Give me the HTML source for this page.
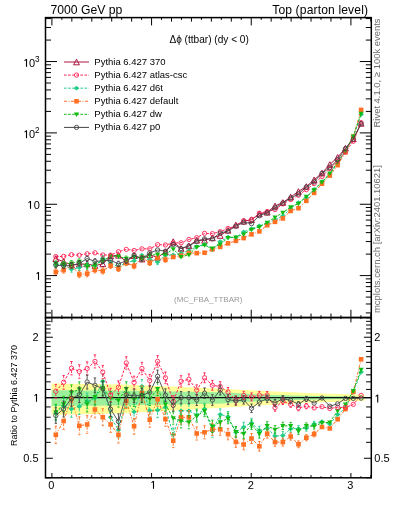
<!DOCTYPE html><html><head><meta charset="utf-8"><style>html,body{margin:0;padding:0;background:#fff}svg{display:block;will-change:transform}text{font-family:"Liberation Sans",sans-serif}</style></head><body>
<svg width="393" height="512" viewBox="0 0 393 512">
<defs><clipPath id="cm"><rect x="45.5" y="17.6" width="325.8" height="299.95"/></clipPath><clipPath id="cr"><rect x="45.5" y="317.55" width="325.8" height="160.25"/></clipPath></defs>
<g clip-path="url(#cr)"><path d="M51.60,383.45 L56.82,383.52 L62.03,383.60 L67.25,383.67 L72.47,383.74 L77.68,383.82 L82.90,383.89 L88.12,383.97 L93.33,384.04 L98.55,384.11 L103.77,384.19 L108.98,384.26 L114.20,384.34 L119.42,384.41 L124.63,384.61 L129.85,384.83 L135.07,385.04 L140.28,385.26 L145.50,385.48 L150.72,385.69 L155.93,385.91 L161.15,386.13 L166.37,386.35 L171.58,386.57 L176.80,386.79 L182.02,387.01 L187.23,387.23 L192.45,387.46 L197.67,387.68 L202.88,387.90 L208.10,388.13 L213.32,388.35 L218.53,388.58 L223.75,388.84 L228.97,389.11 L234.18,389.39 L239.40,389.66 L244.62,389.94 L249.83,390.22 L255.05,390.50 L260.27,390.78 L265.48,391.05 L270.70,391.29 L275.92,391.52 L281.13,391.76 L286.35,392.00 L291.57,392.23 L296.78,392.47 L302.00,392.71 L307.22,392.95 L312.43,393.15 L317.65,393.31 L322.87,393.47 L328.08,393.63 L333.30,393.80 L338.52,393.96 L343.73,394.12 L348.95,394.28 L354.17,394.43 L359.38,394.59 L364.60,394.75 L364.60,400.86 L359.38,401.03 L354.17,401.20 L348.95,401.37 L343.73,401.54 L338.52,401.72 L333.30,401.89 L328.08,402.07 L322.87,402.25 L317.65,402.43 L312.43,402.60 L307.22,402.83 L302.00,403.10 L296.78,403.37 L291.57,403.64 L286.35,403.91 L281.13,404.18 L275.92,404.46 L270.70,404.73 L265.48,405.00 L260.27,405.33 L255.05,405.66 L249.83,405.99 L244.62,406.33 L239.40,406.66 L234.18,407.00 L228.97,407.34 L223.75,407.68 L218.53,408.00 L213.32,408.28 L208.10,408.57 L202.88,408.85 L197.67,409.14 L192.45,409.42 L187.23,409.71 L182.02,410.00 L176.80,410.28 L171.58,410.57 L166.37,410.86 L161.15,411.16 L155.93,411.45 L150.72,411.74 L145.50,412.04 L140.28,412.33 L135.07,412.63 L129.85,412.93 L124.63,413.23 L119.42,413.50 L114.20,413.61 L108.98,413.71 L103.77,413.81 L98.55,413.92 L93.33,414.02 L88.12,414.13 L82.90,414.23 L77.68,414.34 L72.47,414.44 L67.25,414.55 L62.03,414.65 L56.82,414.76 L51.60,414.86 Z" fill="#ffff99"/><path d="M51.60,390.23 L56.82,390.26 L62.03,390.29 L67.25,390.32 L72.47,390.35 L77.68,390.38 L82.90,390.41 L88.12,390.44 L93.33,390.47 L98.55,390.50 L103.77,390.53 L108.98,390.56 L114.20,390.59 L119.42,390.63 L124.63,390.70 L129.85,390.79 L135.07,390.87 L140.28,390.96 L145.50,391.04 L150.72,391.12 L155.93,391.21 L161.15,391.29 L166.37,391.38 L171.58,391.46 L176.80,391.55 L182.02,391.63 L187.23,391.72 L192.45,391.80 L197.67,391.89 L202.88,391.97 L208.10,392.06 L213.32,392.14 L218.53,392.23 L223.75,392.46 L228.97,392.74 L234.18,393.03 L239.40,393.32 L244.62,393.61 L249.83,393.90 L255.05,394.19 L260.27,394.48 L265.48,394.76 L270.70,394.89 L275.92,395.01 L281.13,395.14 L286.35,395.27 L291.57,395.40 L296.78,395.52 L302.00,395.65 L307.22,395.78 L312.43,395.89 L317.65,395.96 L322.87,396.04 L328.08,396.12 L333.30,396.19 L338.52,396.27 L343.73,396.35 L348.95,396.43 L354.17,396.53 L359.38,396.62 L364.60,396.71 L364.60,398.80 L359.38,398.90 L354.17,398.99 L348.95,399.09 L343.73,399.18 L338.52,399.26 L333.30,399.34 L328.08,399.42 L322.87,399.50 L317.65,399.57 L312.43,399.65 L307.22,399.76 L302.00,399.90 L296.78,400.03 L291.57,400.17 L286.35,400.30 L281.13,400.44 L275.92,400.58 L270.70,400.71 L265.48,400.85 L260.27,401.15 L255.05,401.46 L249.83,401.78 L244.62,402.10 L239.40,402.42 L234.18,402.74 L228.97,403.06 L223.75,403.38 L218.53,403.64 L213.32,403.74 L208.10,403.84 L202.88,403.94 L197.67,404.03 L192.45,404.13 L187.23,404.23 L182.02,404.33 L176.80,404.43 L171.58,404.53 L166.37,404.62 L161.15,404.72 L155.93,404.82 L150.72,404.92 L145.50,405.02 L140.28,405.12 L135.07,405.22 L129.85,405.32 L124.63,405.42 L119.42,405.51 L114.20,405.54 L108.98,405.58 L103.77,405.62 L98.55,405.65 L93.33,405.69 L88.12,405.73 L82.90,405.76 L77.68,405.80 L72.47,405.84 L67.25,405.87 L62.03,405.91 L56.82,405.95 L51.60,405.98 Z" fill="#9cf09c"/></g>
<line x1="45.5" y1="397.55" x2="371.3" y2="397.55" stroke="#111" stroke-width="1.25"/>
<g clip-path="url(#cr)"><polyline points="55.81,413.00 63.64,406.00 71.47,409.00 79.30,406.50 87.13,401.00 94.95,398.00 102.78,381.30 110.61,417.30 118.44,429.90 126.27,400.00 134.09,411.80 141.92,386.30 149.75,410.50 157.58,410.20 165.41,407.20 173.23,434.70 181.06,410.80 188.89,410.80 196.72,415.00 204.55,409.00 212.38,431.00 220.20,414.40 228.03,416.70 235.86,432.30 243.69,427.10 251.52,422.90 259.34,430.70 267.17,428.30 275.00,436.10 282.83,435.50 290.66,428.80 298.48,428.80 306.31,428.20 314.14,424.00 321.97,421.60 329.80,424.10 337.62,414.50 345.45,408.00 353.28,392.00 361.11,372.00" fill="none" stroke="#22cc88" stroke-width="1.0" stroke-dasharray="2.6,1.5"/><path d="M55.81,405.30V410.80M55.81,415.20V420.70" stroke="#22cc88" stroke-width="0.9" fill="none" stroke-dasharray="2.6,1.5"/><path d="M54.61,405.30H57.01M54.61,420.70H57.01" stroke="#22cc88" stroke-width="0.9" fill="none"/><path d="M63.64,398.24V403.80M63.64,408.20V413.76" stroke="#22cc88" stroke-width="0.9" fill="none" stroke-dasharray="2.6,1.5"/><path d="M62.44,398.24H64.84M62.44,413.76H64.84" stroke="#22cc88" stroke-width="0.9" fill="none"/><path d="M71.47,400.73V406.80M71.47,411.20V417.27" stroke="#22cc88" stroke-width="0.9" fill="none" stroke-dasharray="2.6,1.5"/><path d="M70.27,400.73H72.67M70.27,417.27H72.67" stroke="#22cc88" stroke-width="0.9" fill="none"/><path d="M79.30,398.42V404.30M79.30,408.70V414.58" stroke="#22cc88" stroke-width="0.9" fill="none" stroke-dasharray="2.6,1.5"/><path d="M78.10,398.42H80.50M78.10,414.58H80.50" stroke="#22cc88" stroke-width="0.9" fill="none"/><path d="M87.13,393.18V398.80M87.13,403.20V408.82" stroke="#22cc88" stroke-width="0.9" fill="none" stroke-dasharray="2.6,1.5"/><path d="M85.93,393.18H88.33M85.93,408.82H88.33" stroke="#22cc88" stroke-width="0.9" fill="none"/><path d="M94.95,390.12V395.80M94.95,400.20V405.88" stroke="#22cc88" stroke-width="0.9" fill="none" stroke-dasharray="2.6,1.5"/><path d="M93.75,390.12H96.15M93.75,405.88H96.15" stroke="#22cc88" stroke-width="0.9" fill="none"/><path d="M102.78,374.25V379.10M102.78,383.50V388.35" stroke="#22cc88" stroke-width="0.9" fill="none" stroke-dasharray="2.6,1.5"/><path d="M101.58,374.25H103.98M101.58,388.35H103.98" stroke="#22cc88" stroke-width="0.9" fill="none"/><path d="M110.61,409.73V415.10M110.61,419.50V424.87" stroke="#22cc88" stroke-width="0.9" fill="none" stroke-dasharray="2.6,1.5"/><path d="M109.41,409.73H111.81M109.41,424.87H111.81" stroke="#22cc88" stroke-width="0.9" fill="none"/><path d="M118.44,421.90V427.70M118.44,432.10V437.90" stroke="#22cc88" stroke-width="0.9" fill="none" stroke-dasharray="2.6,1.5"/><path d="M117.24,421.90H119.64M117.24,437.90H119.64" stroke="#22cc88" stroke-width="0.9" fill="none"/><path d="M126.27,392.49V397.80M126.27,402.20V407.51" stroke="#22cc88" stroke-width="0.9" fill="none" stroke-dasharray="2.6,1.5"/><path d="M125.07,392.49H127.47M125.07,407.51H127.47" stroke="#22cc88" stroke-width="0.9" fill="none"/><path d="M134.09,404.47V409.60M134.09,414.00V419.13" stroke="#22cc88" stroke-width="0.9" fill="none" stroke-dasharray="2.6,1.5"/><path d="M132.89,404.47H135.29M132.89,419.13H135.29" stroke="#22cc88" stroke-width="0.9" fill="none"/><path d="M141.92,379.55V384.10M141.92,388.50V393.05" stroke="#22cc88" stroke-width="0.9" fill="none" stroke-dasharray="2.6,1.5"/><path d="M140.72,379.55H143.12M140.72,393.05H143.12" stroke="#22cc88" stroke-width="0.9" fill="none"/><path d="M149.75,403.32V408.30M149.75,412.70V417.68" stroke="#22cc88" stroke-width="0.9" fill="none" stroke-dasharray="2.6,1.5"/><path d="M148.55,403.32H150.95M148.55,417.68H150.95" stroke="#22cc88" stroke-width="0.9" fill="none"/><path d="M157.58,402.75V408.00M157.58,412.40V417.65" stroke="#22cc88" stroke-width="0.9" fill="none" stroke-dasharray="2.6,1.5"/><path d="M156.38,402.75H158.78M156.38,417.65H158.78" stroke="#22cc88" stroke-width="0.9" fill="none"/><path d="M165.41,400.43V405.00M165.41,409.40V413.97" stroke="#22cc88" stroke-width="0.9" fill="none" stroke-dasharray="2.6,1.5"/><path d="M164.21,400.43H166.61M164.21,413.97H166.61" stroke="#22cc88" stroke-width="0.9" fill="none"/><path d="M173.23,427.98V432.50M173.23,436.90V441.42" stroke="#22cc88" stroke-width="0.9" fill="none" stroke-dasharray="2.6,1.5"/><path d="M172.03,427.98H174.43M172.03,441.42H174.43" stroke="#22cc88" stroke-width="0.9" fill="none"/><path d="M181.06,404.23V408.60M181.06,413.00V417.37" stroke="#22cc88" stroke-width="0.9" fill="none" stroke-dasharray="2.6,1.5"/><path d="M179.86,404.23H182.26M179.86,417.37H182.26" stroke="#22cc88" stroke-width="0.9" fill="none"/><path d="M188.89,404.48V408.60M188.89,413.00V417.12" stroke="#22cc88" stroke-width="0.9" fill="none" stroke-dasharray="2.6,1.5"/><path d="M187.69,404.48H190.09M187.69,417.12H190.09" stroke="#22cc88" stroke-width="0.9" fill="none"/><path d="M196.72,409.04V412.80M196.72,417.20V420.96" stroke="#22cc88" stroke-width="0.9" fill="none" stroke-dasharray="2.6,1.5"/><path d="M195.52,409.04H197.92M195.52,420.96H197.92" stroke="#22cc88" stroke-width="0.9" fill="none"/><path d="M204.55,403.23V406.80M204.55,411.20V414.77" stroke="#22cc88" stroke-width="0.9" fill="none" stroke-dasharray="2.6,1.5"/><path d="M203.35,403.23H205.75M203.35,414.77H205.75" stroke="#22cc88" stroke-width="0.9" fill="none"/><path d="M212.38,424.75V428.80M212.38,433.20V437.25" stroke="#22cc88" stroke-width="0.9" fill="none" stroke-dasharray="2.6,1.5"/><path d="M211.18,424.75H213.58M211.18,437.25H213.58" stroke="#22cc88" stroke-width="0.9" fill="none"/><path d="M220.20,408.86V412.20M220.20,416.60V419.94" stroke="#22cc88" stroke-width="0.9" fill="none" stroke-dasharray="2.6,1.5"/><path d="M219.00,408.86H221.40M219.00,419.94H221.40" stroke="#22cc88" stroke-width="0.9" fill="none"/><path d="M228.03,411.50V414.50M228.03,418.90V421.90" stroke="#22cc88" stroke-width="0.9" fill="none" stroke-dasharray="2.6,1.5"/><path d="M226.83,411.50H229.23M226.83,421.90H229.23" stroke="#22cc88" stroke-width="0.9" fill="none"/><path d="M235.86,427.08V430.10M235.86,434.50V437.52" stroke="#22cc88" stroke-width="0.9" fill="none" stroke-dasharray="2.6,1.5"/><path d="M234.66,427.08H237.06M234.66,437.52H237.06" stroke="#22cc88" stroke-width="0.9" fill="none"/><path d="M243.69,422.29V424.90M243.69,429.30V431.91" stroke="#22cc88" stroke-width="0.9" fill="none" stroke-dasharray="2.6,1.5"/><path d="M242.49,422.29H244.89M242.49,431.91H244.89" stroke="#22cc88" stroke-width="0.9" fill="none"/><path d="M251.52,418.30V420.70M251.52,425.10V427.50" stroke="#22cc88" stroke-width="0.9" fill="none" stroke-dasharray="2.6,1.5"/><path d="M250.32,418.30H252.72M250.32,427.50H252.72" stroke="#22cc88" stroke-width="0.9" fill="none"/><path d="M259.34,426.29V428.50M259.34,432.90V435.11" stroke="#22cc88" stroke-width="0.9" fill="none" stroke-dasharray="2.6,1.5"/><path d="M258.14,426.29H260.54M258.14,435.11H260.54" stroke="#22cc88" stroke-width="0.9" fill="none"/><path d="M267.17,424.05V426.10M267.17,430.50V432.55" stroke="#22cc88" stroke-width="0.9" fill="none" stroke-dasharray="2.6,1.5"/><path d="M265.97,424.05H268.37M265.97,432.55H268.37" stroke="#22cc88" stroke-width="0.9" fill="none"/><path d="M275.00,432.07V433.90M275.00,438.30V440.13" stroke="#22cc88" stroke-width="0.9" fill="none" stroke-dasharray="2.6,1.5"/><path d="M273.80,432.07H276.20M273.80,440.13H276.20" stroke="#22cc88" stroke-width="0.9" fill="none"/><path d="M282.83,431.67V433.30M282.83,437.70V439.33" stroke="#22cc88" stroke-width="0.9" fill="none" stroke-dasharray="2.6,1.5"/><path d="M281.63,431.67H284.03M281.63,439.33H284.03" stroke="#22cc88" stroke-width="0.9" fill="none"/><path d="M290.66,425.39V426.60M290.66,431.00V432.21" stroke="#22cc88" stroke-width="0.9" fill="none" stroke-dasharray="2.6,1.5"/><path d="M289.46,425.39H291.86M289.46,432.21H291.86" stroke="#22cc88" stroke-width="0.9" fill="none"/><path d="M298.48,425.65V426.60M298.48,431.00V431.95" stroke="#22cc88" stroke-width="0.9" fill="none" stroke-dasharray="2.6,1.5"/><path d="M297.28,425.65H299.68M297.28,431.95H299.68" stroke="#22cc88" stroke-width="0.9" fill="none"/><path d="M306.31,425.28V426.00M306.31,430.40V431.12" stroke="#22cc88" stroke-width="0.9" fill="none" stroke-dasharray="2.6,1.5"/><path d="M305.11,425.28H307.51M305.11,431.12H307.51" stroke="#22cc88" stroke-width="0.9" fill="none"/><path d="M314.14,421.41V421.80M314.14,426.20V426.59" stroke="#22cc88" stroke-width="0.9" fill="none" stroke-dasharray="2.6,1.5"/><path d="M312.94,421.41H315.34M312.94,426.59H315.34" stroke="#22cc88" stroke-width="0.9" fill="none"/><path d="M55.81,410.60 L58.61,413.00 L55.81,415.40 L53.01,413.00 Z" fill="#22cc88"/><path d="M63.64,403.60 L66.44,406.00 L63.64,408.40 L60.84,406.00 Z" fill="#22cc88"/><path d="M71.47,406.60 L74.27,409.00 L71.47,411.40 L68.67,409.00 Z" fill="#22cc88"/><path d="M79.30,404.10 L82.10,406.50 L79.30,408.90 L76.50,406.50 Z" fill="#22cc88"/><path d="M87.13,398.60 L89.93,401.00 L87.13,403.40 L84.33,401.00 Z" fill="#22cc88"/><path d="M94.95,395.60 L97.75,398.00 L94.95,400.40 L92.15,398.00 Z" fill="#22cc88"/><path d="M102.78,378.90 L105.58,381.30 L102.78,383.70 L99.98,381.30 Z" fill="#22cc88"/><path d="M110.61,414.90 L113.41,417.30 L110.61,419.70 L107.81,417.30 Z" fill="#22cc88"/><path d="M118.44,427.50 L121.24,429.90 L118.44,432.30 L115.64,429.90 Z" fill="#22cc88"/><path d="M126.27,397.60 L129.07,400.00 L126.27,402.40 L123.47,400.00 Z" fill="#22cc88"/><path d="M134.09,409.40 L136.89,411.80 L134.09,414.20 L131.29,411.80 Z" fill="#22cc88"/><path d="M141.92,383.90 L144.72,386.30 L141.92,388.70 L139.12,386.30 Z" fill="#22cc88"/><path d="M149.75,408.10 L152.55,410.50 L149.75,412.90 L146.95,410.50 Z" fill="#22cc88"/><path d="M157.58,407.80 L160.38,410.20 L157.58,412.60 L154.78,410.20 Z" fill="#22cc88"/><path d="M165.41,404.80 L168.21,407.20 L165.41,409.60 L162.61,407.20 Z" fill="#22cc88"/><path d="M173.23,432.30 L176.03,434.70 L173.23,437.10 L170.43,434.70 Z" fill="#22cc88"/><path d="M181.06,408.40 L183.86,410.80 L181.06,413.20 L178.26,410.80 Z" fill="#22cc88"/><path d="M188.89,408.40 L191.69,410.80 L188.89,413.20 L186.09,410.80 Z" fill="#22cc88"/><path d="M196.72,412.60 L199.52,415.00 L196.72,417.40 L193.92,415.00 Z" fill="#22cc88"/><path d="M204.55,406.60 L207.35,409.00 L204.55,411.40 L201.75,409.00 Z" fill="#22cc88"/><path d="M212.38,428.60 L215.18,431.00 L212.38,433.40 L209.58,431.00 Z" fill="#22cc88"/><path d="M220.20,412.00 L223.00,414.40 L220.20,416.80 L217.40,414.40 Z" fill="#22cc88"/><path d="M228.03,414.30 L230.83,416.70 L228.03,419.10 L225.23,416.70 Z" fill="#22cc88"/><path d="M235.86,429.90 L238.66,432.30 L235.86,434.70 L233.06,432.30 Z" fill="#22cc88"/><path d="M243.69,424.70 L246.49,427.10 L243.69,429.50 L240.89,427.10 Z" fill="#22cc88"/><path d="M251.52,420.50 L254.32,422.90 L251.52,425.30 L248.72,422.90 Z" fill="#22cc88"/><path d="M259.34,428.30 L262.14,430.70 L259.34,433.10 L256.54,430.70 Z" fill="#22cc88"/><path d="M267.17,425.90 L269.97,428.30 L267.17,430.70 L264.37,428.30 Z" fill="#22cc88"/><path d="M275.00,433.70 L277.80,436.10 L275.00,438.50 L272.20,436.10 Z" fill="#22cc88"/><path d="M282.83,433.10 L285.63,435.50 L282.83,437.90 L280.03,435.50 Z" fill="#22cc88"/><path d="M290.66,426.40 L293.46,428.80 L290.66,431.20 L287.86,428.80 Z" fill="#22cc88"/><path d="M298.48,426.40 L301.28,428.80 L298.48,431.20 L295.68,428.80 Z" fill="#22cc88"/><path d="M306.31,425.80 L309.11,428.20 L306.31,430.60 L303.51,428.20 Z" fill="#22cc88"/><path d="M314.14,421.60 L316.94,424.00 L314.14,426.40 L311.34,424.00 Z" fill="#22cc88"/><path d="M321.97,419.20 L324.77,421.60 L321.97,424.00 L319.17,421.60 Z" fill="#22cc88"/><path d="M329.80,421.70 L332.60,424.10 L329.80,426.50 L327.00,424.10 Z" fill="#22cc88"/><path d="M337.62,412.10 L340.42,414.50 L337.62,416.90 L334.82,414.50 Z" fill="#22cc88"/><path d="M345.45,405.60 L348.25,408.00 L345.45,410.40 L342.65,408.00 Z" fill="#22cc88"/><path d="M353.28,389.60 L356.08,392.00 L353.28,394.40 L350.48,392.00 Z" fill="#22cc88"/><path d="M361.11,369.60 L363.91,372.00 L361.11,374.40 L358.31,372.00 Z" fill="#22cc88"/></g>
<g clip-path="url(#cr)"><polyline points="55.81,434.80 63.64,421.00 71.47,398.40 79.30,425.80 87.13,424.50 94.95,409.50 102.78,417.20 110.61,424.50 118.44,434.80 126.27,401.00 134.09,426.30 141.92,393.00 149.75,419.70 157.58,399.20 165.41,419.10 173.23,440.70 181.06,417.30 188.89,417.30 196.72,433.50 204.55,432.30 212.38,429.30 220.20,429.30 228.03,434.10 235.86,441.90 243.69,444.50 251.52,438.50 259.34,446.30 267.17,433.70 275.00,442.10 282.83,442.10 290.66,436.50 298.48,444.30 306.31,437.70 314.14,434.10 321.97,427.00 329.80,428.40 337.62,419.30 345.45,409.10 353.28,391.80 361.11,359.30" fill="none" stroke="#ff7022" stroke-width="1.0" stroke-dasharray="3,1.5,1,1.5"/><path d="M55.81,426.18V432.60M55.81,437.00V443.42" stroke="#ff7022" stroke-width="0.9" fill="none" stroke-dasharray="3,1.5,1,1.5"/><path d="M54.61,426.18H57.01M54.61,443.42H57.01" stroke="#ff7022" stroke-width="0.9" fill="none"/><path d="M63.64,412.62V418.80M63.64,423.20V429.38" stroke="#ff7022" stroke-width="0.9" fill="none" stroke-dasharray="3,1.5,1,1.5"/><path d="M62.44,412.62H64.84M62.44,429.38H64.84" stroke="#ff7022" stroke-width="0.9" fill="none"/><path d="M71.47,390.58V396.20M71.47,400.60V406.22" stroke="#ff7022" stroke-width="0.9" fill="none" stroke-dasharray="3,1.5,1,1.5"/><path d="M70.27,390.58H72.67M70.27,406.22H72.67" stroke="#ff7022" stroke-width="0.9" fill="none"/><path d="M79.30,416.87V423.60M79.30,428.00V434.73" stroke="#ff7022" stroke-width="0.9" fill="none" stroke-dasharray="3,1.5,1,1.5"/><path d="M78.10,416.87H80.50M78.10,434.73H80.50" stroke="#ff7022" stroke-width="0.9" fill="none"/><path d="M87.13,415.67V422.30M87.13,426.70V433.33" stroke="#ff7022" stroke-width="0.9" fill="none" stroke-dasharray="3,1.5,1,1.5"/><path d="M85.93,415.67H88.33M85.93,433.33H88.33" stroke="#ff7022" stroke-width="0.9" fill="none"/><path d="M94.95,401.14V407.30M94.95,411.70V417.86" stroke="#ff7022" stroke-width="0.9" fill="none" stroke-dasharray="3,1.5,1,1.5"/><path d="M93.75,401.14H96.15M93.75,417.86H96.15" stroke="#ff7022" stroke-width="0.9" fill="none"/><path d="M102.78,408.71V415.00M102.78,419.40V425.69" stroke="#ff7022" stroke-width="0.9" fill="none" stroke-dasharray="3,1.5,1,1.5"/><path d="M101.58,408.71H103.98M101.58,425.69H103.98" stroke="#ff7022" stroke-width="0.9" fill="none"/><path d="M110.61,416.64V422.30M110.61,426.70V432.36" stroke="#ff7022" stroke-width="0.9" fill="none" stroke-dasharray="3,1.5,1,1.5"/><path d="M109.41,416.64H111.81M109.41,432.36H111.81" stroke="#ff7022" stroke-width="0.9" fill="none"/><path d="M118.44,426.60V432.60M118.44,437.00V443.00" stroke="#ff7022" stroke-width="0.9" fill="none" stroke-dasharray="3,1.5,1,1.5"/><path d="M117.24,426.60H119.64M117.24,443.00H119.64" stroke="#ff7022" stroke-width="0.9" fill="none"/><path d="M126.27,393.45V398.80M126.27,403.20V408.55" stroke="#ff7022" stroke-width="0.9" fill="none" stroke-dasharray="3,1.5,1,1.5"/><path d="M125.07,393.45H127.47M125.07,408.55H127.47" stroke="#ff7022" stroke-width="0.9" fill="none"/><path d="M134.09,418.40V424.10M134.09,428.50V434.20" stroke="#ff7022" stroke-width="0.9" fill="none" stroke-dasharray="3,1.5,1,1.5"/><path d="M132.89,418.40H135.29M132.89,434.20H135.29" stroke="#ff7022" stroke-width="0.9" fill="none"/><path d="M141.92,386.02V390.80M141.92,395.20V399.98" stroke="#ff7022" stroke-width="0.9" fill="none" stroke-dasharray="3,1.5,1,1.5"/><path d="M140.72,386.02H143.12M140.72,399.98H143.12" stroke="#ff7022" stroke-width="0.9" fill="none"/><path d="M149.75,412.17V417.50M149.75,421.90V427.23" stroke="#ff7022" stroke-width="0.9" fill="none" stroke-dasharray="3,1.5,1,1.5"/><path d="M148.55,412.17H150.95M148.55,427.23H150.95" stroke="#ff7022" stroke-width="0.9" fill="none"/><path d="M157.58,392.16V397.00M157.58,401.40V406.24" stroke="#ff7022" stroke-width="0.9" fill="none" stroke-dasharray="3,1.5,1,1.5"/><path d="M156.38,392.16H158.78M156.38,406.24H158.78" stroke="#ff7022" stroke-width="0.9" fill="none"/><path d="M165.41,411.90V416.90M165.41,421.30V426.30" stroke="#ff7022" stroke-width="0.9" fill="none" stroke-dasharray="3,1.5,1,1.5"/><path d="M164.21,411.90H166.61M164.21,426.30H166.61" stroke="#ff7022" stroke-width="0.9" fill="none"/><path d="M173.23,433.77V438.50M173.23,442.90V447.63" stroke="#ff7022" stroke-width="0.9" fill="none" stroke-dasharray="3,1.5,1,1.5"/><path d="M172.03,433.77H174.43M172.03,447.63H174.43" stroke="#ff7022" stroke-width="0.9" fill="none"/><path d="M181.06,410.51V415.10M181.06,419.50V424.09" stroke="#ff7022" stroke-width="0.9" fill="none" stroke-dasharray="3,1.5,1,1.5"/><path d="M179.86,410.51H182.26M179.86,424.09H182.26" stroke="#ff7022" stroke-width="0.9" fill="none"/><path d="M188.89,410.76V415.10M188.89,419.50V423.84" stroke="#ff7022" stroke-width="0.9" fill="none" stroke-dasharray="3,1.5,1,1.5"/><path d="M187.69,410.76H190.09M187.69,423.84H190.09" stroke="#ff7022" stroke-width="0.9" fill="none"/><path d="M196.72,426.95V431.30M196.72,435.70V440.05" stroke="#ff7022" stroke-width="0.9" fill="none" stroke-dasharray="3,1.5,1,1.5"/><path d="M195.52,426.95H197.92M195.52,440.05H197.92" stroke="#ff7022" stroke-width="0.9" fill="none"/><path d="M204.55,425.79V430.10M204.55,434.50V438.81" stroke="#ff7022" stroke-width="0.9" fill="none" stroke-dasharray="3,1.5,1,1.5"/><path d="M203.35,425.79H205.75M203.35,438.81H205.75" stroke="#ff7022" stroke-width="0.9" fill="none"/><path d="M212.38,423.11V427.10M212.38,431.50V435.49" stroke="#ff7022" stroke-width="0.9" fill="none" stroke-dasharray="3,1.5,1,1.5"/><path d="M211.18,423.11H213.58M211.18,435.49H213.58" stroke="#ff7022" stroke-width="0.9" fill="none"/><path d="M220.20,423.32V427.10M220.20,431.50V435.28" stroke="#ff7022" stroke-width="0.9" fill="none" stroke-dasharray="3,1.5,1,1.5"/><path d="M219.00,423.32H221.40M219.00,435.28H221.40" stroke="#ff7022" stroke-width="0.9" fill="none"/><path d="M228.03,428.41V431.90M228.03,436.30V439.79" stroke="#ff7022" stroke-width="0.9" fill="none" stroke-dasharray="3,1.5,1,1.5"/><path d="M226.83,428.41H229.23M226.83,439.79H229.23" stroke="#ff7022" stroke-width="0.9" fill="none"/><path d="M235.86,436.42V439.70M235.86,444.10V447.38" stroke="#ff7022" stroke-width="0.9" fill="none" stroke-dasharray="3,1.5,1,1.5"/><path d="M234.66,436.42H237.06M234.66,447.38H237.06" stroke="#ff7022" stroke-width="0.9" fill="none"/><path d="M243.69,439.23V442.30M243.69,446.70V449.77" stroke="#ff7022" stroke-width="0.9" fill="none" stroke-dasharray="3,1.5,1,1.5"/><path d="M242.49,439.23H244.89M242.49,449.77H244.89" stroke="#ff7022" stroke-width="0.9" fill="none"/><path d="M251.52,433.51V436.30M251.52,440.70V443.49" stroke="#ff7022" stroke-width="0.9" fill="none" stroke-dasharray="3,1.5,1,1.5"/><path d="M250.32,433.51H252.72M250.32,443.49H252.72" stroke="#ff7022" stroke-width="0.9" fill="none"/><path d="M259.34,441.52V444.10M259.34,448.50V451.08" stroke="#ff7022" stroke-width="0.9" fill="none" stroke-dasharray="3,1.5,1,1.5"/><path d="M258.14,441.52H260.54M258.14,451.08H260.54" stroke="#ff7022" stroke-width="0.9" fill="none"/><path d="M267.17,429.33V431.50M267.17,435.90V438.07" stroke="#ff7022" stroke-width="0.9" fill="none" stroke-dasharray="3,1.5,1,1.5"/><path d="M265.97,429.33H268.37M265.97,438.07H268.37" stroke="#ff7022" stroke-width="0.9" fill="none"/><path d="M275.00,437.94V439.90M275.00,444.30V446.26" stroke="#ff7022" stroke-width="0.9" fill="none" stroke-dasharray="3,1.5,1,1.5"/><path d="M273.80,437.94H276.20M273.80,446.26H276.20" stroke="#ff7022" stroke-width="0.9" fill="none"/><path d="M282.83,438.14V439.90M282.83,444.30V446.06" stroke="#ff7022" stroke-width="0.9" fill="none" stroke-dasharray="3,1.5,1,1.5"/><path d="M281.63,438.14H284.03M281.63,446.06H284.03" stroke="#ff7022" stroke-width="0.9" fill="none"/><path d="M290.66,432.95V434.30M290.66,438.70V440.05" stroke="#ff7022" stroke-width="0.9" fill="none" stroke-dasharray="3,1.5,1,1.5"/><path d="M289.46,432.95H291.86M289.46,440.05H291.86" stroke="#ff7022" stroke-width="0.9" fill="none"/><path d="M298.48,440.89V442.10M298.48,446.50V447.71" stroke="#ff7022" stroke-width="0.9" fill="none" stroke-dasharray="3,1.5,1,1.5"/><path d="M297.28,440.89H299.68M297.28,447.71H299.68" stroke="#ff7022" stroke-width="0.9" fill="none"/><path d="M306.31,434.63V435.50M306.31,439.90V440.77" stroke="#ff7022" stroke-width="0.9" fill="none" stroke-dasharray="3,1.5,1,1.5"/><path d="M305.11,434.63H307.51M305.11,440.77H307.51" stroke="#ff7022" stroke-width="0.9" fill="none"/><path d="M314.14,431.37V431.90M314.14,436.30V436.83" stroke="#ff7022" stroke-width="0.9" fill="none" stroke-dasharray="3,1.5,1,1.5"/><path d="M312.94,431.37H315.34M312.94,436.83H315.34" stroke="#ff7022" stroke-width="0.9" fill="none"/><rect x="53.51" y="432.50" width="4.60" height="4.60" fill="#ff7022"/><rect x="61.34" y="418.70" width="4.60" height="4.60" fill="#ff7022"/><rect x="69.17" y="396.10" width="4.60" height="4.60" fill="#ff7022"/><rect x="77.00" y="423.50" width="4.60" height="4.60" fill="#ff7022"/><rect x="84.83" y="422.20" width="4.60" height="4.60" fill="#ff7022"/><rect x="92.65" y="407.20" width="4.60" height="4.60" fill="#ff7022"/><rect x="100.48" y="414.90" width="4.60" height="4.60" fill="#ff7022"/><rect x="108.31" y="422.20" width="4.60" height="4.60" fill="#ff7022"/><rect x="116.14" y="432.50" width="4.60" height="4.60" fill="#ff7022"/><rect x="123.97" y="398.70" width="4.60" height="4.60" fill="#ff7022"/><rect x="131.79" y="424.00" width="4.60" height="4.60" fill="#ff7022"/><rect x="139.62" y="390.70" width="4.60" height="4.60" fill="#ff7022"/><rect x="147.45" y="417.40" width="4.60" height="4.60" fill="#ff7022"/><rect x="155.28" y="396.90" width="4.60" height="4.60" fill="#ff7022"/><rect x="163.11" y="416.80" width="4.60" height="4.60" fill="#ff7022"/><rect x="170.93" y="438.40" width="4.60" height="4.60" fill="#ff7022"/><rect x="178.76" y="415.00" width="4.60" height="4.60" fill="#ff7022"/><rect x="186.59" y="415.00" width="4.60" height="4.60" fill="#ff7022"/><rect x="194.42" y="431.20" width="4.60" height="4.60" fill="#ff7022"/><rect x="202.25" y="430.00" width="4.60" height="4.60" fill="#ff7022"/><rect x="210.08" y="427.00" width="4.60" height="4.60" fill="#ff7022"/><rect x="217.90" y="427.00" width="4.60" height="4.60" fill="#ff7022"/><rect x="225.73" y="431.80" width="4.60" height="4.60" fill="#ff7022"/><rect x="233.56" y="439.60" width="4.60" height="4.60" fill="#ff7022"/><rect x="241.39" y="442.20" width="4.60" height="4.60" fill="#ff7022"/><rect x="249.22" y="436.20" width="4.60" height="4.60" fill="#ff7022"/><rect x="257.04" y="444.00" width="4.60" height="4.60" fill="#ff7022"/><rect x="264.87" y="431.40" width="4.60" height="4.60" fill="#ff7022"/><rect x="272.70" y="439.80" width="4.60" height="4.60" fill="#ff7022"/><rect x="280.53" y="439.80" width="4.60" height="4.60" fill="#ff7022"/><rect x="288.36" y="434.20" width="4.60" height="4.60" fill="#ff7022"/><rect x="296.18" y="442.00" width="4.60" height="4.60" fill="#ff7022"/><rect x="304.01" y="435.40" width="4.60" height="4.60" fill="#ff7022"/><rect x="311.84" y="431.80" width="4.60" height="4.60" fill="#ff7022"/><rect x="319.67" y="424.70" width="4.60" height="4.60" fill="#ff7022"/><rect x="327.50" y="426.10" width="4.60" height="4.60" fill="#ff7022"/><rect x="335.32" y="417.00" width="4.60" height="4.60" fill="#ff7022"/><rect x="343.15" y="406.80" width="4.60" height="4.60" fill="#ff7022"/><rect x="350.98" y="389.50" width="4.60" height="4.60" fill="#ff7022"/><rect x="358.81" y="357.00" width="4.60" height="4.60" fill="#ff7022"/></g>
<g clip-path="url(#cr)"><polyline points="55.81,412.00 63.64,404.00 71.47,392.50 79.30,389.30 87.13,404.00 94.95,396.70 102.78,388.00 110.61,398.40 118.44,400.20 126.27,388.90 134.09,399.60 141.92,395.00 149.75,398.80 157.58,388.90 165.41,404.40 173.23,418.00 181.06,421.00 188.89,422.10 196.72,416.10 204.55,410.80 212.38,426.30 220.20,422.10 228.03,418.50 235.86,431.70 243.69,433.70 251.52,424.70 259.34,433.70 267.17,425.90 275.00,429.50 282.83,425.90 290.66,425.80 298.48,431.10 306.31,425.80 314.14,426.40 321.97,422.80 329.80,422.30 337.62,410.90 345.45,404.40 353.28,390.70 361.11,369.60" fill="none" stroke="#11bb11" stroke-width="1.0" stroke-dasharray="2.6,1.5"/><path d="M55.81,404.34V409.80M55.81,414.20V419.66" stroke="#11bb11" stroke-width="0.9" fill="none" stroke-dasharray="2.6,1.5"/><path d="M54.61,404.34H57.01M54.61,419.66H57.01" stroke="#11bb11" stroke-width="0.9" fill="none"/><path d="M63.64,396.32V401.80M63.64,406.20V411.68" stroke="#11bb11" stroke-width="0.9" fill="none" stroke-dasharray="2.6,1.5"/><path d="M62.44,396.32H64.84M62.44,411.68H64.84" stroke="#11bb11" stroke-width="0.9" fill="none"/><path d="M71.47,384.91V390.30M71.47,394.70V400.09" stroke="#11bb11" stroke-width="0.9" fill="none" stroke-dasharray="2.6,1.5"/><path d="M70.27,384.91H72.67M70.27,400.09H72.67" stroke="#11bb11" stroke-width="0.9" fill="none"/><path d="M79.30,381.91V387.10M79.30,391.50V396.69" stroke="#11bb11" stroke-width="0.9" fill="none" stroke-dasharray="2.6,1.5"/><path d="M78.10,381.91H80.50M78.10,396.69H80.50" stroke="#11bb11" stroke-width="0.9" fill="none"/><path d="M87.13,396.06V401.80M87.13,406.20V411.94" stroke="#11bb11" stroke-width="0.9" fill="none" stroke-dasharray="2.6,1.5"/><path d="M85.93,396.06H88.33M85.93,411.94H88.33" stroke="#11bb11" stroke-width="0.9" fill="none"/><path d="M94.95,388.88V394.50M94.95,398.90V404.52" stroke="#11bb11" stroke-width="0.9" fill="none" stroke-dasharray="2.6,1.5"/><path d="M93.75,388.88H96.15M93.75,404.52H96.15" stroke="#11bb11" stroke-width="0.9" fill="none"/><path d="M102.78,380.70V385.80M102.78,390.20V395.30" stroke="#11bb11" stroke-width="0.9" fill="none" stroke-dasharray="2.6,1.5"/><path d="M101.58,380.70H103.98M101.58,395.30H103.98" stroke="#11bb11" stroke-width="0.9" fill="none"/><path d="M110.61,391.53V396.20M110.61,400.60V405.27" stroke="#11bb11" stroke-width="0.9" fill="none" stroke-dasharray="2.6,1.5"/><path d="M109.41,391.53H111.81M109.41,405.27H111.81" stroke="#11bb11" stroke-width="0.9" fill="none"/><path d="M118.44,393.34V398.00M118.44,402.40V407.06" stroke="#11bb11" stroke-width="0.9" fill="none" stroke-dasharray="2.6,1.5"/><path d="M117.24,393.34H119.64M117.24,407.06H119.64" stroke="#11bb11" stroke-width="0.9" fill="none"/><path d="M126.27,381.81V386.70M126.27,391.10V395.99" stroke="#11bb11" stroke-width="0.9" fill="none" stroke-dasharray="2.6,1.5"/><path d="M125.07,381.81H127.47M125.07,395.99H127.47" stroke="#11bb11" stroke-width="0.9" fill="none"/><path d="M134.09,392.72V397.40M134.09,401.80V406.48" stroke="#11bb11" stroke-width="0.9" fill="none" stroke-dasharray="2.6,1.5"/><path d="M132.89,392.72H135.29M132.89,406.48H135.29" stroke="#11bb11" stroke-width="0.9" fill="none"/><path d="M141.92,387.94V392.80M141.92,397.20V402.06" stroke="#11bb11" stroke-width="0.9" fill="none" stroke-dasharray="2.6,1.5"/><path d="M140.72,387.94H143.12M140.72,402.06H143.12" stroke="#11bb11" stroke-width="0.9" fill="none"/><path d="M149.75,392.04V396.60M149.75,401.00V405.56" stroke="#11bb11" stroke-width="0.9" fill="none" stroke-dasharray="2.6,1.5"/><path d="M148.55,392.04H150.95M148.55,405.56H150.95" stroke="#11bb11" stroke-width="0.9" fill="none"/><path d="M157.58,382.23V386.70M157.58,391.10V395.57" stroke="#11bb11" stroke-width="0.9" fill="none" stroke-dasharray="2.6,1.5"/><path d="M156.38,382.23H158.78M156.38,395.57H158.78" stroke="#11bb11" stroke-width="0.9" fill="none"/><path d="M165.41,397.73V402.20M165.41,406.60V411.07" stroke="#11bb11" stroke-width="0.9" fill="none" stroke-dasharray="2.6,1.5"/><path d="M164.21,397.73H166.61M164.21,411.07H166.61" stroke="#11bb11" stroke-width="0.9" fill="none"/><path d="M173.23,411.84V415.80M173.23,420.20V424.16" stroke="#11bb11" stroke-width="0.9" fill="none" stroke-dasharray="2.6,1.5"/><path d="M172.03,411.84H174.43M172.03,424.16H174.43" stroke="#11bb11" stroke-width="0.9" fill="none"/><path d="M181.06,414.08V418.80M181.06,423.20V427.92" stroke="#11bb11" stroke-width="0.9" fill="none" stroke-dasharray="2.6,1.5"/><path d="M179.86,414.08H182.26M179.86,427.92H182.26" stroke="#11bb11" stroke-width="0.9" fill="none"/><path d="M188.89,415.40V419.90M188.89,424.30V428.80" stroke="#11bb11" stroke-width="0.9" fill="none" stroke-dasharray="2.6,1.5"/><path d="M187.69,415.40H190.09M187.69,428.80H190.09" stroke="#11bb11" stroke-width="0.9" fill="none"/><path d="M196.72,410.11V413.90M196.72,418.30V422.09" stroke="#11bb11" stroke-width="0.9" fill="none" stroke-dasharray="2.6,1.5"/><path d="M195.52,410.11H197.92M195.52,422.09H197.92" stroke="#11bb11" stroke-width="0.9" fill="none"/><path d="M204.55,404.97V408.60M204.55,413.00V416.63" stroke="#11bb11" stroke-width="0.9" fill="none" stroke-dasharray="2.6,1.5"/><path d="M203.35,404.97H205.75M203.35,416.63H205.75" stroke="#11bb11" stroke-width="0.9" fill="none"/><path d="M212.38,420.20V424.10M212.38,428.50V432.40" stroke="#11bb11" stroke-width="0.9" fill="none" stroke-dasharray="2.6,1.5"/><path d="M211.18,420.20H213.58M211.18,432.40H213.58" stroke="#11bb11" stroke-width="0.9" fill="none"/><path d="M220.20,416.34V419.90M220.20,424.30V427.86" stroke="#11bb11" stroke-width="0.9" fill="none" stroke-dasharray="2.6,1.5"/><path d="M219.00,416.34H221.40M219.00,427.86H221.40" stroke="#11bb11" stroke-width="0.9" fill="none"/><path d="M228.03,413.25V416.30M228.03,420.70V423.75" stroke="#11bb11" stroke-width="0.9" fill="none" stroke-dasharray="2.6,1.5"/><path d="M226.83,413.25H229.23M226.83,423.75H229.23" stroke="#11bb11" stroke-width="0.9" fill="none"/><path d="M235.86,426.50V429.50M235.86,433.90V436.90" stroke="#11bb11" stroke-width="0.9" fill="none" stroke-dasharray="2.6,1.5"/><path d="M234.66,426.50H237.06M234.66,436.90H237.06" stroke="#11bb11" stroke-width="0.9" fill="none"/><path d="M243.69,428.72V431.50M243.69,435.90V438.68" stroke="#11bb11" stroke-width="0.9" fill="none" stroke-dasharray="2.6,1.5"/><path d="M242.49,428.72H244.89M242.49,438.68H244.89" stroke="#11bb11" stroke-width="0.9" fill="none"/><path d="M251.52,420.06V422.50M251.52,426.90V429.34" stroke="#11bb11" stroke-width="0.9" fill="none" stroke-dasharray="2.6,1.5"/><path d="M250.32,420.06H252.72M250.32,429.34H252.72" stroke="#11bb11" stroke-width="0.9" fill="none"/><path d="M259.34,429.22V431.50M259.34,435.90V438.18" stroke="#11bb11" stroke-width="0.9" fill="none" stroke-dasharray="2.6,1.5"/><path d="M258.14,429.22H260.54M258.14,438.18H260.54" stroke="#11bb11" stroke-width="0.9" fill="none"/><path d="M267.17,421.70V423.70M267.17,428.10V430.10" stroke="#11bb11" stroke-width="0.9" fill="none" stroke-dasharray="2.6,1.5"/><path d="M265.97,421.70H268.37M265.97,430.10H268.37" stroke="#11bb11" stroke-width="0.9" fill="none"/><path d="M275.00,425.60V427.30M275.00,431.70V433.40" stroke="#11bb11" stroke-width="0.9" fill="none" stroke-dasharray="2.6,1.5"/><path d="M273.80,425.60H276.20M273.80,433.40H276.20" stroke="#11bb11" stroke-width="0.9" fill="none"/><path d="M282.83,422.26V423.70M282.83,428.10V429.54" stroke="#11bb11" stroke-width="0.9" fill="none" stroke-dasharray="2.6,1.5"/><path d="M281.63,422.26H284.03M281.63,429.54H284.03" stroke="#11bb11" stroke-width="0.9" fill="none"/><path d="M290.66,422.44V423.60M290.66,428.00V429.16" stroke="#11bb11" stroke-width="0.9" fill="none" stroke-dasharray="2.6,1.5"/><path d="M289.46,422.44H291.86M289.46,429.16H291.86" stroke="#11bb11" stroke-width="0.9" fill="none"/><path d="M298.48,427.91V428.90M298.48,433.30V434.29" stroke="#11bb11" stroke-width="0.9" fill="none" stroke-dasharray="2.6,1.5"/><path d="M297.28,427.91H299.68M297.28,434.29H299.68" stroke="#11bb11" stroke-width="0.9" fill="none"/><path d="M306.31,422.92V423.60M306.31,428.00V428.68" stroke="#11bb11" stroke-width="0.9" fill="none" stroke-dasharray="2.6,1.5"/><path d="M305.11,422.92H307.51M305.11,428.68H307.51" stroke="#11bb11" stroke-width="0.9" fill="none"/><path d="M314.14,423.78V424.20M314.14,428.60V429.02" stroke="#11bb11" stroke-width="0.9" fill="none" stroke-dasharray="2.6,1.5"/><path d="M312.94,423.78H315.34M312.94,429.02H315.34" stroke="#11bb11" stroke-width="0.9" fill="none"/><path d="M53.21,410.20 L58.41,410.20 L55.81,414.70 Z" fill="#11bb11"/><path d="M61.04,402.20 L66.24,402.20 L63.64,406.70 Z" fill="#11bb11"/><path d="M68.87,390.70 L74.07,390.70 L71.47,395.20 Z" fill="#11bb11"/><path d="M76.70,387.50 L81.90,387.50 L79.30,392.00 Z" fill="#11bb11"/><path d="M84.53,402.20 L89.73,402.20 L87.13,406.70 Z" fill="#11bb11"/><path d="M92.35,394.90 L97.55,394.90 L94.95,399.40 Z" fill="#11bb11"/><path d="M100.18,386.20 L105.38,386.20 L102.78,390.70 Z" fill="#11bb11"/><path d="M108.01,396.60 L113.21,396.60 L110.61,401.10 Z" fill="#11bb11"/><path d="M115.84,398.40 L121.04,398.40 L118.44,402.90 Z" fill="#11bb11"/><path d="M123.67,387.10 L128.87,387.10 L126.27,391.60 Z" fill="#11bb11"/><path d="M131.49,397.80 L136.69,397.80 L134.09,402.30 Z" fill="#11bb11"/><path d="M139.32,393.20 L144.52,393.20 L141.92,397.70 Z" fill="#11bb11"/><path d="M147.15,397.00 L152.35,397.00 L149.75,401.50 Z" fill="#11bb11"/><path d="M154.98,387.10 L160.18,387.10 L157.58,391.60 Z" fill="#11bb11"/><path d="M162.81,402.60 L168.01,402.60 L165.41,407.10 Z" fill="#11bb11"/><path d="M170.63,416.20 L175.83,416.20 L173.23,420.70 Z" fill="#11bb11"/><path d="M178.46,419.20 L183.66,419.20 L181.06,423.70 Z" fill="#11bb11"/><path d="M186.29,420.30 L191.49,420.30 L188.89,424.80 Z" fill="#11bb11"/><path d="M194.12,414.30 L199.32,414.30 L196.72,418.80 Z" fill="#11bb11"/><path d="M201.95,409.00 L207.15,409.00 L204.55,413.50 Z" fill="#11bb11"/><path d="M209.78,424.50 L214.98,424.50 L212.38,429.00 Z" fill="#11bb11"/><path d="M217.60,420.30 L222.80,420.30 L220.20,424.80 Z" fill="#11bb11"/><path d="M225.43,416.70 L230.63,416.70 L228.03,421.20 Z" fill="#11bb11"/><path d="M233.26,429.90 L238.46,429.90 L235.86,434.40 Z" fill="#11bb11"/><path d="M241.09,431.90 L246.29,431.90 L243.69,436.40 Z" fill="#11bb11"/><path d="M248.92,422.90 L254.12,422.90 L251.52,427.40 Z" fill="#11bb11"/><path d="M256.74,431.90 L261.94,431.90 L259.34,436.40 Z" fill="#11bb11"/><path d="M264.57,424.10 L269.77,424.10 L267.17,428.60 Z" fill="#11bb11"/><path d="M272.40,427.70 L277.60,427.70 L275.00,432.20 Z" fill="#11bb11"/><path d="M280.23,424.10 L285.43,424.10 L282.83,428.60 Z" fill="#11bb11"/><path d="M288.06,424.00 L293.26,424.00 L290.66,428.50 Z" fill="#11bb11"/><path d="M295.88,429.30 L301.08,429.30 L298.48,433.80 Z" fill="#11bb11"/><path d="M303.71,424.00 L308.91,424.00 L306.31,428.50 Z" fill="#11bb11"/><path d="M311.54,424.60 L316.74,424.60 L314.14,429.10 Z" fill="#11bb11"/><path d="M319.37,421.00 L324.57,421.00 L321.97,425.50 Z" fill="#11bb11"/><path d="M327.20,420.50 L332.40,420.50 L329.80,425.00 Z" fill="#11bb11"/><path d="M335.02,409.10 L340.22,409.10 L337.62,413.60 Z" fill="#11bb11"/><path d="M342.85,402.60 L348.05,402.60 L345.45,407.10 Z" fill="#11bb11"/><path d="M350.68,388.90 L355.88,388.90 L353.28,393.40 Z" fill="#11bb11"/><path d="M358.51,367.80 L363.71,367.80 L361.11,372.30 Z" fill="#11bb11"/></g>
<g clip-path="url(#cr)"><polyline points="55.81,391.30 63.64,382.30 71.47,368.20 79.30,371.50 87.13,368.50 94.95,361.40 102.78,372.10 110.61,395.00 118.44,387.30 126.27,362.90 134.09,382.50 141.92,368.50 149.75,380.50 157.58,361.40 165.41,377.80 173.23,401.40 181.06,381.30 188.89,379.30 196.72,390.10 204.55,377.80 212.38,385.30 220.20,386.50 228.03,392.10 235.86,400.20 243.69,395.40 251.52,396.90 259.34,395.10 267.17,395.10 275.00,407.70 282.83,401.30 290.66,404.30 298.48,407.90 306.31,406.10 314.14,407.90 321.97,406.70 329.80,408.50 337.62,407.30 345.45,407.50 353.28,404.40 361.11,395.40" fill="none" stroke="#ff2255" stroke-width="1.0" stroke-dasharray="2.6,1.5"/><path d="M55.81,384.42V389.10M55.81,393.50V398.18" stroke="#ff2255" stroke-width="0.9" fill="none" stroke-dasharray="2.6,1.5"/><path d="M54.61,384.42H57.01M54.61,398.18H57.01" stroke="#ff2255" stroke-width="0.9" fill="none"/><path d="M63.64,375.44V380.10M63.64,384.50V389.16" stroke="#ff2255" stroke-width="0.9" fill="none" stroke-dasharray="2.6,1.5"/><path d="M62.44,375.44H64.84M62.44,389.16H64.84" stroke="#ff2255" stroke-width="0.9" fill="none"/><path d="M71.47,361.51V366.00M71.47,370.40V374.89" stroke="#ff2255" stroke-width="0.9" fill="none" stroke-dasharray="2.6,1.5"/><path d="M70.27,361.51H72.67M70.27,374.89H72.67" stroke="#ff2255" stroke-width="0.9" fill="none"/><path d="M79.30,364.76V369.30M79.30,373.70V378.24" stroke="#ff2255" stroke-width="0.9" fill="none" stroke-dasharray="2.6,1.5"/><path d="M78.10,364.76H80.50M78.10,378.24H80.50" stroke="#ff2255" stroke-width="0.9" fill="none"/><path d="M87.13,361.89V366.30M87.13,370.70V375.11" stroke="#ff2255" stroke-width="0.9" fill="none" stroke-dasharray="2.6,1.5"/><path d="M85.93,361.89H88.33M85.93,375.11H88.33" stroke="#ff2255" stroke-width="0.9" fill="none"/><path d="M94.95,354.88V359.20M94.95,363.60V367.92" stroke="#ff2255" stroke-width="0.9" fill="none" stroke-dasharray="2.6,1.5"/><path d="M93.75,354.88H96.15M93.75,367.92H96.15" stroke="#ff2255" stroke-width="0.9" fill="none"/><path d="M102.78,365.38V369.90M102.78,374.30V378.82" stroke="#ff2255" stroke-width="0.9" fill="none" stroke-dasharray="2.6,1.5"/><path d="M101.58,365.38H103.98M101.58,378.82H103.98" stroke="#ff2255" stroke-width="0.9" fill="none"/><path d="M110.61,388.25V392.80M110.61,397.20V401.75" stroke="#ff2255" stroke-width="0.9" fill="none" stroke-dasharray="2.6,1.5"/><path d="M109.41,388.25H111.81M109.41,401.75H111.81" stroke="#ff2255" stroke-width="0.9" fill="none"/><path d="M118.44,380.88V385.10M118.44,389.50V393.72" stroke="#ff2255" stroke-width="0.9" fill="none" stroke-dasharray="2.6,1.5"/><path d="M117.24,380.88H119.64M117.24,393.72H119.64" stroke="#ff2255" stroke-width="0.9" fill="none"/><path d="M126.27,356.70V360.70M126.27,365.10V369.10" stroke="#ff2255" stroke-width="0.9" fill="none" stroke-dasharray="2.6,1.5"/><path d="M125.07,356.70H127.47M125.07,369.10H127.47" stroke="#ff2255" stroke-width="0.9" fill="none"/><path d="M134.09,376.20V380.30M134.09,384.70V388.80" stroke="#ff2255" stroke-width="0.9" fill="none" stroke-dasharray="2.6,1.5"/><path d="M132.89,376.20H135.29M132.89,388.80H135.29" stroke="#ff2255" stroke-width="0.9" fill="none"/><path d="M141.92,362.35V366.30M141.92,370.70V374.65" stroke="#ff2255" stroke-width="0.9" fill="none" stroke-dasharray="2.6,1.5"/><path d="M140.72,362.35H143.12M140.72,374.65H143.12" stroke="#ff2255" stroke-width="0.9" fill="none"/><path d="M149.75,374.35V378.30M149.75,382.70V386.65" stroke="#ff2255" stroke-width="0.9" fill="none" stroke-dasharray="2.6,1.5"/><path d="M148.55,374.35H150.95M148.55,386.65H150.95" stroke="#ff2255" stroke-width="0.9" fill="none"/><path d="M157.58,355.61V359.20M157.58,363.60V367.19" stroke="#ff2255" stroke-width="0.9" fill="none" stroke-dasharray="2.6,1.5"/><path d="M156.38,355.61H158.78M156.38,367.19H158.78" stroke="#ff2255" stroke-width="0.9" fill="none"/><path d="M165.41,371.98V375.60M165.41,380.00V383.62" stroke="#ff2255" stroke-width="0.9" fill="none" stroke-dasharray="2.6,1.5"/><path d="M164.21,371.98H166.61M164.21,383.62H166.61" stroke="#ff2255" stroke-width="0.9" fill="none"/><path d="M173.23,395.74V399.20M173.23,403.60V407.06" stroke="#ff2255" stroke-width="0.9" fill="none" stroke-dasharray="2.6,1.5"/><path d="M172.03,395.74H174.43M172.03,407.06H174.43" stroke="#ff2255" stroke-width="0.9" fill="none"/><path d="M181.06,375.66V379.10M181.06,383.50V386.94" stroke="#ff2255" stroke-width="0.9" fill="none" stroke-dasharray="2.6,1.5"/><path d="M179.86,375.66H182.26M179.86,386.94H182.26" stroke="#ff2255" stroke-width="0.9" fill="none"/><path d="M188.89,373.93V377.10M188.89,381.50V384.67" stroke="#ff2255" stroke-width="0.9" fill="none" stroke-dasharray="2.6,1.5"/><path d="M187.69,373.93H190.09M187.69,384.67H190.09" stroke="#ff2255" stroke-width="0.9" fill="none"/><path d="M196.72,384.86V387.90M196.72,392.30V395.34" stroke="#ff2255" stroke-width="0.9" fill="none" stroke-dasharray="2.6,1.5"/><path d="M195.52,384.86H197.92M195.52,395.34H197.92" stroke="#ff2255" stroke-width="0.9" fill="none"/><path d="M204.55,372.89V375.60M204.55,380.00V382.71" stroke="#ff2255" stroke-width="0.9" fill="none" stroke-dasharray="2.6,1.5"/><path d="M203.35,372.89H205.75M203.35,382.71H205.75" stroke="#ff2255" stroke-width="0.9" fill="none"/><path d="M212.38,380.37V383.10M212.38,387.50V390.23" stroke="#ff2255" stroke-width="0.9" fill="none" stroke-dasharray="2.6,1.5"/><path d="M211.18,380.37H213.58M211.18,390.23H213.58" stroke="#ff2255" stroke-width="0.9" fill="none"/><path d="M220.20,381.71V384.30M220.20,388.70V391.29" stroke="#ff2255" stroke-width="0.9" fill="none" stroke-dasharray="2.6,1.5"/><path d="M219.00,381.71H221.40M219.00,391.29H221.40" stroke="#ff2255" stroke-width="0.9" fill="none"/><path d="M228.03,387.52V389.90M228.03,394.30V396.68" stroke="#ff2255" stroke-width="0.9" fill="none" stroke-dasharray="2.6,1.5"/><path d="M226.83,387.52H229.23M226.83,396.68H229.23" stroke="#ff2255" stroke-width="0.9" fill="none"/><path d="M235.86,395.78V398.00M235.86,402.40V404.62" stroke="#ff2255" stroke-width="0.9" fill="none" stroke-dasharray="2.6,1.5"/><path d="M234.66,395.78H237.06M234.66,404.62H237.06" stroke="#ff2255" stroke-width="0.9" fill="none"/><path d="M243.69,391.32V393.20M243.69,397.60V399.48" stroke="#ff2255" stroke-width="0.9" fill="none" stroke-dasharray="2.6,1.5"/><path d="M242.49,391.32H244.89M242.49,399.48H244.89" stroke="#ff2255" stroke-width="0.9" fill="none"/><path d="M251.52,392.88V394.70M251.52,399.10V400.92" stroke="#ff2255" stroke-width="0.9" fill="none" stroke-dasharray="2.6,1.5"/><path d="M250.32,392.88H252.72M250.32,400.92H252.72" stroke="#ff2255" stroke-width="0.9" fill="none"/><path d="M259.34,391.43V392.90M259.34,397.30V398.77" stroke="#ff2255" stroke-width="0.9" fill="none" stroke-dasharray="2.6,1.5"/><path d="M258.14,391.43H260.54M258.14,398.77H260.54" stroke="#ff2255" stroke-width="0.9" fill="none"/><path d="M267.17,391.52V392.90M267.17,397.30V398.68" stroke="#ff2255" stroke-width="0.9" fill="none" stroke-dasharray="2.6,1.5"/><path d="M265.97,391.52H268.37M265.97,398.68H268.37" stroke="#ff2255" stroke-width="0.9" fill="none"/><path d="M275.00,404.22V405.50M275.00,409.90V411.18" stroke="#ff2255" stroke-width="0.9" fill="none" stroke-dasharray="2.6,1.5"/><path d="M273.80,404.22H276.20M273.80,411.18H276.20" stroke="#ff2255" stroke-width="0.9" fill="none"/><path d="M282.83,398.10V399.10M282.83,403.50V404.50" stroke="#ff2255" stroke-width="0.9" fill="none" stroke-dasharray="2.6,1.5"/><path d="M281.63,398.10H284.03M281.63,404.50H284.03" stroke="#ff2255" stroke-width="0.9" fill="none"/><path d="M290.66,401.29V402.10M290.66,406.50V407.31" stroke="#ff2255" stroke-width="0.9" fill="none" stroke-dasharray="2.6,1.5"/><path d="M289.46,401.29H291.86M289.46,407.31H291.86" stroke="#ff2255" stroke-width="0.9" fill="none"/><path d="M298.48,405.07V405.70M298.48,410.10V410.73" stroke="#ff2255" stroke-width="0.9" fill="none" stroke-dasharray="2.6,1.5"/><path d="M297.28,405.07H299.68M297.28,410.73H299.68" stroke="#ff2255" stroke-width="0.9" fill="none"/><path d="M306.31,403.50V403.90M306.31,408.30V408.70" stroke="#ff2255" stroke-width="0.9" fill="none" stroke-dasharray="2.6,1.5"/><path d="M305.11,403.50H307.51M305.11,408.70H307.51" stroke="#ff2255" stroke-width="0.9" fill="none"/><circle cx="55.81" cy="391.30" r="2.15" fill="none" stroke="#ff2255" stroke-width="0.9"/><circle cx="63.64" cy="382.30" r="2.15" fill="none" stroke="#ff2255" stroke-width="0.9"/><circle cx="71.47" cy="368.20" r="2.15" fill="none" stroke="#ff2255" stroke-width="0.9"/><circle cx="79.30" cy="371.50" r="2.15" fill="none" stroke="#ff2255" stroke-width="0.9"/><circle cx="87.13" cy="368.50" r="2.15" fill="none" stroke="#ff2255" stroke-width="0.9"/><circle cx="94.95" cy="361.40" r="2.15" fill="none" stroke="#ff2255" stroke-width="0.9"/><circle cx="102.78" cy="372.10" r="2.15" fill="none" stroke="#ff2255" stroke-width="0.9"/><circle cx="110.61" cy="395.00" r="2.15" fill="none" stroke="#ff2255" stroke-width="0.9"/><circle cx="118.44" cy="387.30" r="2.15" fill="none" stroke="#ff2255" stroke-width="0.9"/><circle cx="126.27" cy="362.90" r="2.15" fill="none" stroke="#ff2255" stroke-width="0.9"/><circle cx="134.09" cy="382.50" r="2.15" fill="none" stroke="#ff2255" stroke-width="0.9"/><circle cx="141.92" cy="368.50" r="2.15" fill="none" stroke="#ff2255" stroke-width="0.9"/><circle cx="149.75" cy="380.50" r="2.15" fill="none" stroke="#ff2255" stroke-width="0.9"/><circle cx="157.58" cy="361.40" r="2.15" fill="none" stroke="#ff2255" stroke-width="0.9"/><circle cx="165.41" cy="377.80" r="2.15" fill="none" stroke="#ff2255" stroke-width="0.9"/><circle cx="173.23" cy="401.40" r="2.15" fill="none" stroke="#ff2255" stroke-width="0.9"/><circle cx="181.06" cy="381.30" r="2.15" fill="none" stroke="#ff2255" stroke-width="0.9"/><circle cx="188.89" cy="379.30" r="2.15" fill="none" stroke="#ff2255" stroke-width="0.9"/><circle cx="196.72" cy="390.10" r="2.15" fill="none" stroke="#ff2255" stroke-width="0.9"/><circle cx="204.55" cy="377.80" r="2.15" fill="none" stroke="#ff2255" stroke-width="0.9"/><circle cx="212.38" cy="385.30" r="2.15" fill="none" stroke="#ff2255" stroke-width="0.9"/><circle cx="220.20" cy="386.50" r="2.15" fill="none" stroke="#ff2255" stroke-width="0.9"/><circle cx="228.03" cy="392.10" r="2.15" fill="none" stroke="#ff2255" stroke-width="0.9"/><circle cx="235.86" cy="400.20" r="2.15" fill="none" stroke="#ff2255" stroke-width="0.9"/><circle cx="243.69" cy="395.40" r="2.15" fill="none" stroke="#ff2255" stroke-width="0.9"/><circle cx="251.52" cy="396.90" r="2.15" fill="none" stroke="#ff2255" stroke-width="0.9"/><circle cx="259.34" cy="395.10" r="2.15" fill="none" stroke="#ff2255" stroke-width="0.9"/><circle cx="267.17" cy="395.10" r="2.15" fill="none" stroke="#ff2255" stroke-width="0.9"/><circle cx="275.00" cy="407.70" r="2.15" fill="none" stroke="#ff2255" stroke-width="0.9"/><circle cx="282.83" cy="401.30" r="2.15" fill="none" stroke="#ff2255" stroke-width="0.9"/><circle cx="290.66" cy="404.30" r="2.15" fill="none" stroke="#ff2255" stroke-width="0.9"/><circle cx="298.48" cy="407.90" r="2.15" fill="none" stroke="#ff2255" stroke-width="0.9"/><circle cx="306.31" cy="406.10" r="2.15" fill="none" stroke="#ff2255" stroke-width="0.9"/><circle cx="314.14" cy="407.90" r="2.15" fill="none" stroke="#ff2255" stroke-width="0.9"/><circle cx="321.97" cy="406.70" r="2.15" fill="none" stroke="#ff2255" stroke-width="0.9"/><circle cx="329.80" cy="408.50" r="2.15" fill="none" stroke="#ff2255" stroke-width="0.9"/><circle cx="337.62" cy="407.30" r="2.15" fill="none" stroke="#ff2255" stroke-width="0.9"/><circle cx="345.45" cy="407.50" r="2.15" fill="none" stroke="#ff2255" stroke-width="0.9"/><circle cx="353.28" cy="404.40" r="2.15" fill="none" stroke="#ff2255" stroke-width="0.9"/><circle cx="361.11" cy="395.40" r="2.15" fill="none" stroke="#ff2255" stroke-width="0.9"/></g>
<g clip-path="url(#cr)"><polyline points="55.81,415.50 63.64,409.00 71.47,398.50 79.30,394.80 87.13,382.00 94.95,385.30 102.78,388.70 110.61,409.30 118.44,421.50 126.27,394.80 134.09,395.80 141.92,395.60 149.75,392.10 157.58,376.30 165.41,395.20 173.23,405.30 181.06,397.60 188.89,397.60 196.72,400.00 204.55,393.20 212.38,400.00 220.20,390.10 228.03,399.60 235.86,400.80 243.69,399.90 251.52,408.30 259.34,402.10 267.17,398.70 275.00,402.90 282.83,398.70 290.66,400.40 298.48,404.30 306.31,398.90 314.14,403.10 321.97,398.00 329.80,406.20 337.62,403.80 345.45,398.40 353.28,398.40 361.11,398.10" fill="none" stroke="#444444" stroke-width="0.9"/><path d="M55.81,407.70V413.30M55.81,417.70V423.30" stroke="#444444" stroke-width="0.9" fill="none"/><path d="M54.61,407.70H57.01M54.61,423.30H57.01" stroke="#444444" stroke-width="0.9" fill="none"/><path d="M63.64,401.12V406.80M63.64,411.20V416.88" stroke="#444444" stroke-width="0.9" fill="none"/><path d="M62.44,401.12H64.84M62.44,416.88H64.84" stroke="#444444" stroke-width="0.9" fill="none"/><path d="M71.47,390.67V396.30M71.47,400.70V406.33" stroke="#444444" stroke-width="0.9" fill="none"/><path d="M70.27,390.67H72.67M70.27,406.33H72.67" stroke="#444444" stroke-width="0.9" fill="none"/><path d="M79.30,387.20V392.60M79.30,397.00V402.40" stroke="#444444" stroke-width="0.9" fill="none"/><path d="M78.10,387.20H80.50M78.10,402.40H80.50" stroke="#444444" stroke-width="0.9" fill="none"/><path d="M87.13,374.92V379.80M87.13,384.20V389.08" stroke="#444444" stroke-width="0.9" fill="none"/><path d="M85.93,374.92H88.33M85.93,389.08H88.33" stroke="#444444" stroke-width="0.9" fill="none"/><path d="M94.95,377.92V383.10M94.95,387.50V392.68" stroke="#444444" stroke-width="0.9" fill="none"/><path d="M93.75,377.92H96.15M93.75,392.68H96.15" stroke="#444444" stroke-width="0.9" fill="none"/><path d="M102.78,381.38V386.50M102.78,390.90V396.02" stroke="#444444" stroke-width="0.9" fill="none"/><path d="M101.58,381.38H103.98M101.58,396.02H103.98" stroke="#444444" stroke-width="0.9" fill="none"/><path d="M110.61,402.04V407.10M110.61,411.50V416.56" stroke="#444444" stroke-width="0.9" fill="none"/><path d="M109.41,402.04H111.81M109.41,416.56H111.81" stroke="#444444" stroke-width="0.9" fill="none"/><path d="M118.44,413.84V419.30M118.44,423.70V429.16" stroke="#444444" stroke-width="0.9" fill="none"/><path d="M117.24,413.84H119.64M117.24,429.16H119.64" stroke="#444444" stroke-width="0.9" fill="none"/><path d="M126.27,387.49V392.60M126.27,397.00V402.11" stroke="#444444" stroke-width="0.9" fill="none"/><path d="M125.07,387.49H127.47M125.07,402.11H127.47" stroke="#444444" stroke-width="0.9" fill="none"/><path d="M134.09,389.06V393.60M134.09,398.00V402.54" stroke="#444444" stroke-width="0.9" fill="none"/><path d="M132.89,389.06H135.29M132.89,402.54H135.29" stroke="#444444" stroke-width="0.9" fill="none"/><path d="M141.92,388.52V393.40M141.92,397.80V402.68" stroke="#444444" stroke-width="0.9" fill="none"/><path d="M140.72,388.52H143.12M140.72,402.68H143.12" stroke="#444444" stroke-width="0.9" fill="none"/><path d="M149.75,385.57V389.90M149.75,394.30V398.63" stroke="#444444" stroke-width="0.9" fill="none"/><path d="M148.55,385.57H150.95M148.55,398.63H150.95" stroke="#444444" stroke-width="0.9" fill="none"/><path d="M157.58,370.05V374.10M157.58,378.50V382.55" stroke="#444444" stroke-width="0.9" fill="none"/><path d="M156.38,370.05H158.78M156.38,382.55H158.78" stroke="#444444" stroke-width="0.9" fill="none"/><path d="M165.41,388.84V393.00M165.41,397.40V401.56" stroke="#444444" stroke-width="0.9" fill="none"/><path d="M164.21,388.84H166.61M164.21,401.56H166.61" stroke="#444444" stroke-width="0.9" fill="none"/><path d="M173.23,399.53V403.10M173.23,407.50V411.07" stroke="#444444" stroke-width="0.9" fill="none"/><path d="M172.03,399.53H174.43M172.03,411.07H174.43" stroke="#444444" stroke-width="0.9" fill="none"/><path d="M181.06,391.47V395.40M181.06,399.80V403.73" stroke="#444444" stroke-width="0.9" fill="none"/><path d="M179.86,391.47H182.26M179.86,403.73H182.26" stroke="#444444" stroke-width="0.9" fill="none"/><path d="M188.89,391.70V395.40M188.89,399.80V403.50" stroke="#444444" stroke-width="0.9" fill="none"/><path d="M187.69,391.70H190.09M187.69,403.50H190.09" stroke="#444444" stroke-width="0.9" fill="none"/><path d="M196.72,394.49V397.80M196.72,402.20V405.51" stroke="#444444" stroke-width="0.9" fill="none"/><path d="M195.52,394.49H197.92M195.52,405.51H197.92" stroke="#444444" stroke-width="0.9" fill="none"/><path d="M204.55,387.88V391.00M204.55,395.40V398.52" stroke="#444444" stroke-width="0.9" fill="none"/><path d="M203.35,387.88H205.75M203.35,398.52H205.75" stroke="#444444" stroke-width="0.9" fill="none"/><path d="M212.38,394.68V397.80M212.38,402.20V405.32" stroke="#444444" stroke-width="0.9" fill="none"/><path d="M211.18,394.68H213.58M211.18,405.32H213.58" stroke="#444444" stroke-width="0.9" fill="none"/><path d="M220.20,385.22V387.90M220.20,392.30V394.98" stroke="#444444" stroke-width="0.9" fill="none"/><path d="M219.00,385.22H221.40M219.00,394.98H221.40" stroke="#444444" stroke-width="0.9" fill="none"/><path d="M228.03,394.84V397.40M228.03,401.80V404.36" stroke="#444444" stroke-width="0.9" fill="none"/><path d="M226.83,394.84H229.23M226.83,404.36H229.23" stroke="#444444" stroke-width="0.9" fill="none"/><path d="M235.86,396.37V398.60M235.86,403.00V405.23" stroke="#444444" stroke-width="0.9" fill="none"/><path d="M234.66,396.37H237.06M234.66,405.23H237.06" stroke="#444444" stroke-width="0.9" fill="none"/><path d="M243.69,395.72V397.70M243.69,402.10V404.08" stroke="#444444" stroke-width="0.9" fill="none"/><path d="M242.49,395.72H244.89M242.49,404.08H244.89" stroke="#444444" stroke-width="0.9" fill="none"/><path d="M251.52,404.03V406.10M251.52,410.50V412.57" stroke="#444444" stroke-width="0.9" fill="none"/><path d="M250.32,404.03H252.72M250.32,412.57H252.72" stroke="#444444" stroke-width="0.9" fill="none"/><path d="M259.34,398.30V399.90M259.34,404.30V405.90" stroke="#444444" stroke-width="0.9" fill="none"/><path d="M258.14,398.30H260.54M258.14,405.90H260.54" stroke="#444444" stroke-width="0.9" fill="none"/><path d="M267.17,395.05V396.50M267.17,400.90V402.35" stroke="#444444" stroke-width="0.9" fill="none"/><path d="M265.97,395.05H268.37M265.97,402.35H268.37" stroke="#444444" stroke-width="0.9" fill="none"/><path d="M275.00,399.50V400.70M275.00,405.10V406.30" stroke="#444444" stroke-width="0.9" fill="none"/><path d="M273.80,399.50H276.20M273.80,406.30H276.20" stroke="#444444" stroke-width="0.9" fill="none"/><path d="M282.83,395.54V396.50M282.83,400.90V401.86" stroke="#444444" stroke-width="0.9" fill="none"/><path d="M281.63,395.54H284.03M281.63,401.86H284.03" stroke="#444444" stroke-width="0.9" fill="none"/><path d="M290.66,397.45V398.20M290.66,402.60V403.35" stroke="#444444" stroke-width="0.9" fill="none"/><path d="M289.46,397.45H291.86M289.46,403.35H291.86" stroke="#444444" stroke-width="0.9" fill="none"/><path d="M298.48,401.53V402.10M298.48,406.50V407.07" stroke="#444444" stroke-width="0.9" fill="none"/><path d="M297.28,401.53H299.68M297.28,407.07H299.68" stroke="#444444" stroke-width="0.9" fill="none"/><path d="M306.31,396.39V396.70M306.31,401.10V401.41" stroke="#444444" stroke-width="0.9" fill="none"/><path d="M305.11,396.39H307.51M305.11,401.41H307.51" stroke="#444444" stroke-width="0.9" fill="none"/><circle cx="55.81" cy="415.50" r="2.15" fill="none" stroke="#444444" stroke-width="0.9"/><circle cx="63.64" cy="409.00" r="2.15" fill="none" stroke="#444444" stroke-width="0.9"/><circle cx="71.47" cy="398.50" r="2.15" fill="none" stroke="#444444" stroke-width="0.9"/><circle cx="79.30" cy="394.80" r="2.15" fill="none" stroke="#444444" stroke-width="0.9"/><circle cx="87.13" cy="382.00" r="2.15" fill="none" stroke="#444444" stroke-width="0.9"/><circle cx="94.95" cy="385.30" r="2.15" fill="none" stroke="#444444" stroke-width="0.9"/><circle cx="102.78" cy="388.70" r="2.15" fill="none" stroke="#444444" stroke-width="0.9"/><circle cx="110.61" cy="409.30" r="2.15" fill="none" stroke="#444444" stroke-width="0.9"/><circle cx="118.44" cy="421.50" r="2.15" fill="none" stroke="#444444" stroke-width="0.9"/><circle cx="126.27" cy="394.80" r="2.15" fill="none" stroke="#444444" stroke-width="0.9"/><circle cx="134.09" cy="395.80" r="2.15" fill="none" stroke="#444444" stroke-width="0.9"/><circle cx="141.92" cy="395.60" r="2.15" fill="none" stroke="#444444" stroke-width="0.9"/><circle cx="149.75" cy="392.10" r="2.15" fill="none" stroke="#444444" stroke-width="0.9"/><circle cx="157.58" cy="376.30" r="2.15" fill="none" stroke="#444444" stroke-width="0.9"/><circle cx="165.41" cy="395.20" r="2.15" fill="none" stroke="#444444" stroke-width="0.9"/><circle cx="173.23" cy="405.30" r="2.15" fill="none" stroke="#444444" stroke-width="0.9"/><circle cx="181.06" cy="397.60" r="2.15" fill="none" stroke="#444444" stroke-width="0.9"/><circle cx="188.89" cy="397.60" r="2.15" fill="none" stroke="#444444" stroke-width="0.9"/><circle cx="196.72" cy="400.00" r="2.15" fill="none" stroke="#444444" stroke-width="0.9"/><circle cx="204.55" cy="393.20" r="2.15" fill="none" stroke="#444444" stroke-width="0.9"/><circle cx="212.38" cy="400.00" r="2.15" fill="none" stroke="#444444" stroke-width="0.9"/><circle cx="220.20" cy="390.10" r="2.15" fill="none" stroke="#444444" stroke-width="0.9"/><circle cx="228.03" cy="399.60" r="2.15" fill="none" stroke="#444444" stroke-width="0.9"/><circle cx="235.86" cy="400.80" r="2.15" fill="none" stroke="#444444" stroke-width="0.9"/><circle cx="243.69" cy="399.90" r="2.15" fill="none" stroke="#444444" stroke-width="0.9"/><circle cx="251.52" cy="408.30" r="2.15" fill="none" stroke="#444444" stroke-width="0.9"/><circle cx="259.34" cy="402.10" r="2.15" fill="none" stroke="#444444" stroke-width="0.9"/><circle cx="267.17" cy="398.70" r="2.15" fill="none" stroke="#444444" stroke-width="0.9"/><circle cx="275.00" cy="402.90" r="2.15" fill="none" stroke="#444444" stroke-width="0.9"/><circle cx="282.83" cy="398.70" r="2.15" fill="none" stroke="#444444" stroke-width="0.9"/><circle cx="290.66" cy="400.40" r="2.15" fill="none" stroke="#444444" stroke-width="0.9"/><circle cx="298.48" cy="404.30" r="2.15" fill="none" stroke="#444444" stroke-width="0.9"/><circle cx="306.31" cy="398.90" r="2.15" fill="none" stroke="#444444" stroke-width="0.9"/><circle cx="314.14" cy="403.10" r="2.15" fill="none" stroke="#444444" stroke-width="0.9"/><circle cx="321.97" cy="398.00" r="2.15" fill="none" stroke="#444444" stroke-width="0.9"/><circle cx="329.80" cy="406.20" r="2.15" fill="none" stroke="#444444" stroke-width="0.9"/><circle cx="337.62" cy="403.80" r="2.15" fill="none" stroke="#444444" stroke-width="0.9"/><circle cx="345.45" cy="398.40" r="2.15" fill="none" stroke="#444444" stroke-width="0.9"/><circle cx="353.28" cy="398.40" r="2.15" fill="none" stroke="#444444" stroke-width="0.9"/><circle cx="361.11" cy="398.10" r="2.15" fill="none" stroke="#444444" stroke-width="0.9"/></g>
<g clip-path="url(#cm)"><polyline points="55.81,258.70 63.64,261.70 71.47,265.00 79.30,264.30 87.13,264.00 94.95,265.60 102.78,263.90 110.61,256.00 118.44,255.30 126.27,261.60 134.09,255.70 141.92,259.10 149.75,254.80 157.58,257.40 165.41,251.90 173.23,241.60 181.06,248.50 188.89,245.90 196.72,240.30 204.55,240.30 212.38,237.90 220.20,235.50 228.03,230.30 235.86,225.00 243.69,221.30 251.52,219.70 259.34,214.00 267.17,212.30 275.00,205.90 282.83,202.50 290.66,197.00 298.48,191.50 306.31,186.50 314.14,179.80 321.97,173.10 329.80,164.50 337.62,157.30 345.45,148.20 353.28,138.70 361.11,123.40" fill="none" stroke="#a8173f" stroke-width="1.0"/><path d="M55.81,256.18V256.50M55.81,260.90V261.22" stroke="#a8173f" stroke-width="0.9" fill="none"/><path d="M54.61,256.18H57.01M54.61,261.22H57.01" stroke="#a8173f" stroke-width="0.9" fill="none"/><path d="M63.64,259.07V259.50M63.64,263.90V264.33" stroke="#a8173f" stroke-width="0.9" fill="none"/><path d="M62.44,259.07H64.84M62.44,264.33H64.84" stroke="#a8173f" stroke-width="0.9" fill="none"/><path d="M71.47,262.24V262.80M71.47,267.20V267.76" stroke="#a8173f" stroke-width="0.9" fill="none"/><path d="M70.27,262.24H72.67M70.27,267.76H72.67" stroke="#a8173f" stroke-width="0.9" fill="none"/><path d="M79.30,261.57V262.10M79.30,266.50V267.03" stroke="#a8173f" stroke-width="0.9" fill="none"/><path d="M78.10,261.57H80.50M78.10,267.03H80.50" stroke="#a8173f" stroke-width="0.9" fill="none"/><path d="M87.13,261.28V261.80M87.13,266.20V266.72" stroke="#a8173f" stroke-width="0.9" fill="none"/><path d="M85.93,261.28H88.33M85.93,266.72H88.33" stroke="#a8173f" stroke-width="0.9" fill="none"/><path d="M94.95,262.81V263.40M94.95,267.80V268.39" stroke="#a8173f" stroke-width="0.9" fill="none"/><path d="M93.75,262.81H96.15M93.75,268.39H96.15" stroke="#a8173f" stroke-width="0.9" fill="none"/><path d="M102.78,261.18V261.70M102.78,266.10V266.62" stroke="#a8173f" stroke-width="0.9" fill="none"/><path d="M101.58,261.18H103.98M101.58,266.62H103.98" stroke="#a8173f" stroke-width="0.9" fill="none"/><path d="M126.27,258.97V259.40M126.27,263.80V264.23" stroke="#a8173f" stroke-width="0.9" fill="none"/><path d="M125.07,258.97H127.47M125.07,264.23H127.47" stroke="#a8173f" stroke-width="0.9" fill="none"/><path d="M141.92,256.56V256.90M141.92,261.30V261.64" stroke="#a8173f" stroke-width="0.9" fill="none"/><path d="M140.72,256.56H143.12M140.72,261.64H143.12" stroke="#a8173f" stroke-width="0.9" fill="none"/><path d="M55.81,255.90 L58.71,261.50 L52.91,261.50 Z" fill="none" stroke="#a8173f" stroke-width="1.0"/><path d="M63.64,258.90 L66.54,264.50 L60.74,264.50 Z" fill="none" stroke="#a8173f" stroke-width="1.0"/><path d="M71.47,262.20 L74.37,267.80 L68.57,267.80 Z" fill="none" stroke="#a8173f" stroke-width="1.0"/><path d="M79.30,261.50 L82.20,267.10 L76.40,267.10 Z" fill="none" stroke="#a8173f" stroke-width="1.0"/><path d="M87.13,261.20 L90.03,266.80 L84.23,266.80 Z" fill="none" stroke="#a8173f" stroke-width="1.0"/><path d="M94.95,262.80 L97.85,268.40 L92.05,268.40 Z" fill="none" stroke="#a8173f" stroke-width="1.0"/><path d="M102.78,261.10 L105.68,266.70 L99.88,266.70 Z" fill="none" stroke="#a8173f" stroke-width="1.0"/><path d="M110.61,253.20 L113.51,258.80 L107.71,258.80 Z" fill="none" stroke="#a8173f" stroke-width="1.0"/><path d="M118.44,252.50 L121.34,258.10 L115.54,258.10 Z" fill="none" stroke="#a8173f" stroke-width="1.0"/><path d="M126.27,258.80 L129.17,264.40 L123.37,264.40 Z" fill="none" stroke="#a8173f" stroke-width="1.0"/><path d="M134.09,252.90 L136.99,258.50 L131.19,258.50 Z" fill="none" stroke="#a8173f" stroke-width="1.0"/><path d="M141.92,256.30 L144.82,261.90 L139.02,261.90 Z" fill="none" stroke="#a8173f" stroke-width="1.0"/><path d="M149.75,252.00 L152.65,257.60 L146.85,257.60 Z" fill="none" stroke="#a8173f" stroke-width="1.0"/><path d="M157.58,254.60 L160.48,260.20 L154.68,260.20 Z" fill="none" stroke="#a8173f" stroke-width="1.0"/><path d="M165.41,249.10 L168.31,254.70 L162.51,254.70 Z" fill="none" stroke="#a8173f" stroke-width="1.0"/><path d="M173.23,238.80 L176.13,244.40 L170.33,244.40 Z" fill="none" stroke="#a8173f" stroke-width="1.0"/><path d="M181.06,245.70 L183.96,251.30 L178.16,251.30 Z" fill="none" stroke="#a8173f" stroke-width="1.0"/><path d="M188.89,243.10 L191.79,248.70 L185.99,248.70 Z" fill="none" stroke="#a8173f" stroke-width="1.0"/><path d="M196.72,237.50 L199.62,243.10 L193.82,243.10 Z" fill="none" stroke="#a8173f" stroke-width="1.0"/><path d="M204.55,237.50 L207.45,243.10 L201.65,243.10 Z" fill="none" stroke="#a8173f" stroke-width="1.0"/><path d="M212.38,235.10 L215.28,240.70 L209.48,240.70 Z" fill="none" stroke="#a8173f" stroke-width="1.0"/><path d="M220.20,232.70 L223.10,238.30 L217.30,238.30 Z" fill="none" stroke="#a8173f" stroke-width="1.0"/><path d="M228.03,227.50 L230.93,233.10 L225.13,233.10 Z" fill="none" stroke="#a8173f" stroke-width="1.0"/><path d="M235.86,222.20 L238.76,227.80 L232.96,227.80 Z" fill="none" stroke="#a8173f" stroke-width="1.0"/><path d="M243.69,218.50 L246.59,224.10 L240.79,224.10 Z" fill="none" stroke="#a8173f" stroke-width="1.0"/><path d="M251.52,216.90 L254.42,222.50 L248.62,222.50 Z" fill="none" stroke="#a8173f" stroke-width="1.0"/><path d="M259.34,211.20 L262.24,216.80 L256.44,216.80 Z" fill="none" stroke="#a8173f" stroke-width="1.0"/><path d="M267.17,209.50 L270.07,215.10 L264.27,215.10 Z" fill="none" stroke="#a8173f" stroke-width="1.0"/><path d="M275.00,203.10 L277.90,208.70 L272.10,208.70 Z" fill="none" stroke="#a8173f" stroke-width="1.0"/><path d="M282.83,199.70 L285.73,205.30 L279.93,205.30 Z" fill="none" stroke="#a8173f" stroke-width="1.0"/><path d="M290.66,194.20 L293.56,199.80 L287.76,199.80 Z" fill="none" stroke="#a8173f" stroke-width="1.0"/><path d="M298.48,188.70 L301.38,194.30 L295.58,194.30 Z" fill="none" stroke="#a8173f" stroke-width="1.0"/><path d="M306.31,183.70 L309.21,189.30 L303.41,189.30 Z" fill="none" stroke="#a8173f" stroke-width="1.0"/><path d="M314.14,177.00 L317.04,182.60 L311.24,182.60 Z" fill="none" stroke="#a8173f" stroke-width="1.0"/><path d="M321.97,170.30 L324.87,175.90 L319.07,175.90 Z" fill="none" stroke="#a8173f" stroke-width="1.0"/><path d="M329.80,161.70 L332.70,167.30 L326.90,167.30 Z" fill="none" stroke="#a8173f" stroke-width="1.0"/><path d="M337.62,154.50 L340.52,160.10 L334.72,160.10 Z" fill="none" stroke="#a8173f" stroke-width="1.0"/><path d="M345.45,145.40 L348.35,151.00 L342.55,151.00 Z" fill="none" stroke="#a8173f" stroke-width="1.0"/><path d="M353.28,135.90 L356.18,141.50 L350.38,141.50 Z" fill="none" stroke="#a8173f" stroke-width="1.0"/><path d="M361.11,120.60 L364.01,126.20 L358.21,126.20 Z" fill="none" stroke="#a8173f" stroke-width="1.0"/></g>
<g clip-path="url(#cm)"><polyline points="55.81,264.28 63.64,264.79 71.47,269.16 79.30,267.57 87.13,265.31 94.95,265.85 102.78,258.21 110.61,263.11 118.44,266.88 126.27,262.56 134.09,260.85 141.92,255.19 149.75,259.49 157.58,261.98 165.41,255.42 173.23,254.89 181.06,253.30 188.89,250.70 196.72,246.59 204.55,244.46 212.38,249.87 220.20,241.58 228.03,237.19 235.86,237.44 243.69,231.89 251.52,228.80 259.34,225.87 267.17,223.31 275.00,219.69 282.83,216.07 290.66,208.19 298.48,202.69 306.31,197.48 314.14,189.29 321.97,181.73 329.80,174.02 337.62,163.41 345.45,152.00 353.28,136.82 361.11,114.41" fill="none" stroke="#22cc88" stroke-width="1.0" stroke-dasharray="2.6,1.5"/><path d="M55.81,261.54V262.08M55.81,266.48V267.01" stroke="#22cc88" stroke-width="0.9" fill="none" stroke-dasharray="2.6,1.5"/><path d="M54.61,261.54H57.01M54.61,267.01H57.01" stroke="#22cc88" stroke-width="0.9" fill="none"/><path d="M63.64,262.04V262.59M63.64,266.99V267.55" stroke="#22cc88" stroke-width="0.9" fill="none" stroke-dasharray="2.6,1.5"/><path d="M62.44,262.04H64.84M62.44,267.55H64.84" stroke="#22cc88" stroke-width="0.9" fill="none"/><path d="M71.47,266.22V266.96M71.47,271.36V272.09" stroke="#22cc88" stroke-width="0.9" fill="none" stroke-dasharray="2.6,1.5"/><path d="M70.27,266.22H72.67M70.27,272.09H72.67" stroke="#22cc88" stroke-width="0.9" fill="none"/><path d="M79.30,264.70V265.37M79.30,269.77V270.44" stroke="#22cc88" stroke-width="0.9" fill="none" stroke-dasharray="2.6,1.5"/><path d="M78.10,264.70H80.50M78.10,270.44H80.50" stroke="#22cc88" stroke-width="0.9" fill="none"/><path d="M87.13,262.54V263.11M87.13,267.51V268.09" stroke="#22cc88" stroke-width="0.9" fill="none" stroke-dasharray="2.6,1.5"/><path d="M85.93,262.54H88.33M85.93,268.09H88.33" stroke="#22cc88" stroke-width="0.9" fill="none"/><path d="M94.95,263.05V263.65M94.95,268.05V268.64" stroke="#22cc88" stroke-width="0.9" fill="none" stroke-dasharray="2.6,1.5"/><path d="M93.75,263.05H96.15M93.75,268.64H96.15" stroke="#22cc88" stroke-width="0.9" fill="none"/><path d="M102.78,255.71V256.01M102.78,260.41V260.72" stroke="#22cc88" stroke-width="0.9" fill="none" stroke-dasharray="2.6,1.5"/><path d="M101.58,255.71H103.98M101.58,260.72H103.98" stroke="#22cc88" stroke-width="0.9" fill="none"/><path d="M110.61,260.42V260.91M110.61,265.31V265.79" stroke="#22cc88" stroke-width="0.9" fill="none" stroke-dasharray="2.6,1.5"/><path d="M109.41,260.42H111.81M109.41,265.79H111.81" stroke="#22cc88" stroke-width="0.9" fill="none"/><path d="M118.44,264.04V264.68M118.44,269.08V269.72" stroke="#22cc88" stroke-width="0.9" fill="none" stroke-dasharray="2.6,1.5"/><path d="M117.24,264.04H119.64M117.24,269.72H119.64" stroke="#22cc88" stroke-width="0.9" fill="none"/><path d="M126.27,259.89V260.36M126.27,264.76V265.23" stroke="#22cc88" stroke-width="0.9" fill="none" stroke-dasharray="2.6,1.5"/><path d="M125.07,259.89H127.47M125.07,265.23H127.47" stroke="#22cc88" stroke-width="0.9" fill="none"/><path d="M134.09,258.25V258.65M134.09,263.05V263.45" stroke="#22cc88" stroke-width="0.9" fill="none" stroke-dasharray="2.6,1.5"/><path d="M132.89,258.25H135.29M132.89,263.45H135.29" stroke="#22cc88" stroke-width="0.9" fill="none"/><path d="M149.75,256.94V257.29M149.75,261.69V262.04" stroke="#22cc88" stroke-width="0.9" fill="none" stroke-dasharray="2.6,1.5"/><path d="M148.55,256.94H150.95M148.55,262.04H150.95" stroke="#22cc88" stroke-width="0.9" fill="none"/><path d="M157.58,259.34V259.78M157.58,264.18V264.63" stroke="#22cc88" stroke-width="0.9" fill="none" stroke-dasharray="2.6,1.5"/><path d="M156.38,259.34H158.78M156.38,264.63H158.78" stroke="#22cc88" stroke-width="0.9" fill="none"/><path d="M55.81,261.88 L58.61,264.28 L55.81,266.68 L53.01,264.28 Z" fill="#22cc88"/><path d="M63.64,262.39 L66.44,264.79 L63.64,267.19 L60.84,264.79 Z" fill="#22cc88"/><path d="M71.47,266.76 L74.27,269.16 L71.47,271.56 L68.67,269.16 Z" fill="#22cc88"/><path d="M79.30,265.17 L82.10,267.57 L79.30,269.97 L76.50,267.57 Z" fill="#22cc88"/><path d="M87.13,262.91 L89.93,265.31 L87.13,267.71 L84.33,265.31 Z" fill="#22cc88"/><path d="M94.95,263.45 L97.75,265.85 L94.95,268.25 L92.15,265.85 Z" fill="#22cc88"/><path d="M102.78,255.81 L105.58,258.21 L102.78,260.61 L99.98,258.21 Z" fill="#22cc88"/><path d="M110.61,260.71 L113.41,263.11 L110.61,265.51 L107.81,263.11 Z" fill="#22cc88"/><path d="M118.44,264.48 L121.24,266.88 L118.44,269.28 L115.64,266.88 Z" fill="#22cc88"/><path d="M126.27,260.16 L129.07,262.56 L126.27,264.96 L123.47,262.56 Z" fill="#22cc88"/><path d="M134.09,258.45 L136.89,260.85 L134.09,263.25 L131.29,260.85 Z" fill="#22cc88"/><path d="M141.92,252.79 L144.72,255.19 L141.92,257.59 L139.12,255.19 Z" fill="#22cc88"/><path d="M149.75,257.09 L152.55,259.49 L149.75,261.89 L146.95,259.49 Z" fill="#22cc88"/><path d="M157.58,259.58 L160.38,261.98 L157.58,264.38 L154.78,261.98 Z" fill="#22cc88"/><path d="M165.41,253.02 L168.21,255.42 L165.41,257.82 L162.61,255.42 Z" fill="#22cc88"/><path d="M173.23,252.49 L176.03,254.89 L173.23,257.29 L170.43,254.89 Z" fill="#22cc88"/><path d="M181.06,250.90 L183.86,253.30 L181.06,255.70 L178.26,253.30 Z" fill="#22cc88"/><path d="M188.89,248.30 L191.69,250.70 L188.89,253.10 L186.09,250.70 Z" fill="#22cc88"/><path d="M196.72,244.19 L199.52,246.59 L196.72,248.99 L193.92,246.59 Z" fill="#22cc88"/><path d="M204.55,242.06 L207.35,244.46 L204.55,246.86 L201.75,244.46 Z" fill="#22cc88"/><path d="M212.38,247.47 L215.18,249.87 L212.38,252.27 L209.58,249.87 Z" fill="#22cc88"/><path d="M220.20,239.18 L223.00,241.58 L220.20,243.98 L217.40,241.58 Z" fill="#22cc88"/><path d="M228.03,234.79 L230.83,237.19 L228.03,239.59 L225.23,237.19 Z" fill="#22cc88"/><path d="M235.86,235.04 L238.66,237.44 L235.86,239.84 L233.06,237.44 Z" fill="#22cc88"/><path d="M243.69,229.49 L246.49,231.89 L243.69,234.29 L240.89,231.89 Z" fill="#22cc88"/><path d="M251.52,226.40 L254.32,228.80 L251.52,231.20 L248.72,228.80 Z" fill="#22cc88"/><path d="M259.34,223.47 L262.14,225.87 L259.34,228.27 L256.54,225.87 Z" fill="#22cc88"/><path d="M267.17,220.91 L269.97,223.31 L267.17,225.71 L264.37,223.31 Z" fill="#22cc88"/><path d="M275.00,217.29 L277.80,219.69 L275.00,222.09 L272.20,219.69 Z" fill="#22cc88"/><path d="M282.83,213.67 L285.63,216.07 L282.83,218.47 L280.03,216.07 Z" fill="#22cc88"/><path d="M290.66,205.79 L293.46,208.19 L290.66,210.59 L287.86,208.19 Z" fill="#22cc88"/><path d="M298.48,200.29 L301.28,202.69 L298.48,205.09 L295.68,202.69 Z" fill="#22cc88"/><path d="M306.31,195.08 L309.11,197.48 L306.31,199.88 L303.51,197.48 Z" fill="#22cc88"/><path d="M314.14,186.89 L316.94,189.29 L314.14,191.69 L311.34,189.29 Z" fill="#22cc88"/><path d="M321.97,179.33 L324.77,181.73 L321.97,184.13 L319.17,181.73 Z" fill="#22cc88"/><path d="M329.80,171.62 L332.60,174.02 L329.80,176.42 L327.00,174.02 Z" fill="#22cc88"/><path d="M337.62,161.01 L340.42,163.41 L337.62,165.81 L334.82,163.41 Z" fill="#22cc88"/><path d="M345.45,149.60 L348.25,152.00 L345.45,154.40 L342.65,152.00 Z" fill="#22cc88"/><path d="M353.28,134.42 L356.08,136.82 L353.28,139.22 L350.48,136.82 Z" fill="#22cc88"/><path d="M361.11,112.01 L363.91,114.41 L361.11,116.81 L358.31,114.41 Z" fill="#22cc88"/></g>
<g clip-path="url(#cm)"><polyline points="55.81,272.02 63.64,270.12 71.47,265.39 79.30,274.43 87.13,273.66 94.95,269.93 102.78,270.97 110.61,265.66 118.44,268.62 126.27,262.91 134.09,266.00 141.92,257.57 149.75,262.76 157.58,258.08 165.41,259.65 173.23,257.02 181.06,255.61 188.89,253.01 196.72,253.16 204.55,252.74 212.38,249.27 220.20,246.87 228.03,243.38 235.86,240.85 243.69,238.07 251.52,234.34 259.34,231.41 267.17,225.23 275.00,221.82 282.83,218.42 290.66,210.93 298.48,208.20 306.31,200.85 314.14,192.88 321.97,183.65 329.80,175.55 337.62,165.12 345.45,152.39 353.28,136.75 361.11,109.90" fill="none" stroke="#ff7022" stroke-width="1.0" stroke-dasharray="3,1.5,1,1.5"/><path d="M55.81,268.96V269.82M55.81,274.22V275.08" stroke="#ff7022" stroke-width="0.9" fill="none" stroke-dasharray="3,1.5,1,1.5"/><path d="M54.61,268.96H57.01M54.61,275.08H57.01" stroke="#ff7022" stroke-width="0.9" fill="none"/><path d="M63.64,267.15V267.92M63.64,272.32V273.10" stroke="#ff7022" stroke-width="0.9" fill="none" stroke-dasharray="3,1.5,1,1.5"/><path d="M62.44,267.15H64.84M62.44,273.10H64.84" stroke="#ff7022" stroke-width="0.9" fill="none"/><path d="M71.47,262.61V263.19M71.47,267.59V268.17" stroke="#ff7022" stroke-width="0.9" fill="none" stroke-dasharray="3,1.5,1,1.5"/><path d="M70.27,262.61H72.67M70.27,268.17H72.67" stroke="#ff7022" stroke-width="0.9" fill="none"/><path d="M79.30,271.26V272.23M79.30,276.63V277.59" stroke="#ff7022" stroke-width="0.9" fill="none" stroke-dasharray="3,1.5,1,1.5"/><path d="M78.10,271.26H80.50M78.10,277.59H80.50" stroke="#ff7022" stroke-width="0.9" fill="none"/><path d="M87.13,270.53V271.46M87.13,275.86V276.80" stroke="#ff7022" stroke-width="0.9" fill="none" stroke-dasharray="3,1.5,1,1.5"/><path d="M85.93,270.53H88.33M85.93,276.80H88.33" stroke="#ff7022" stroke-width="0.9" fill="none"/><path d="M94.95,266.97V267.73M94.95,272.13V272.90" stroke="#ff7022" stroke-width="0.9" fill="none" stroke-dasharray="3,1.5,1,1.5"/><path d="M93.75,266.97H96.15M93.75,272.90H96.15" stroke="#ff7022" stroke-width="0.9" fill="none"/><path d="M102.78,267.96V268.77M102.78,273.17V273.98" stroke="#ff7022" stroke-width="0.9" fill="none" stroke-dasharray="3,1.5,1,1.5"/><path d="M101.58,267.96H103.98M101.58,273.98H103.98" stroke="#ff7022" stroke-width="0.9" fill="none"/><path d="M110.61,262.88V263.46M110.61,267.86V268.45" stroke="#ff7022" stroke-width="0.9" fill="none" stroke-dasharray="3,1.5,1,1.5"/><path d="M109.41,262.88H111.81M109.41,268.45H111.81" stroke="#ff7022" stroke-width="0.9" fill="none"/><path d="M118.44,265.71V266.42M118.44,270.82V271.54" stroke="#ff7022" stroke-width="0.9" fill="none" stroke-dasharray="3,1.5,1,1.5"/><path d="M117.24,265.71H119.64M117.24,271.54H119.64" stroke="#ff7022" stroke-width="0.9" fill="none"/><path d="M126.27,260.24V260.71M126.27,265.11V265.59" stroke="#ff7022" stroke-width="0.9" fill="none" stroke-dasharray="3,1.5,1,1.5"/><path d="M125.07,260.24H127.47M125.07,265.59H127.47" stroke="#ff7022" stroke-width="0.9" fill="none"/><path d="M134.09,263.20V263.80M134.09,268.20V268.81" stroke="#ff7022" stroke-width="0.9" fill="none" stroke-dasharray="3,1.5,1,1.5"/><path d="M132.89,263.20H135.29M132.89,268.81H135.29" stroke="#ff7022" stroke-width="0.9" fill="none"/><path d="M149.75,260.08V260.56M149.75,264.96V265.43" stroke="#ff7022" stroke-width="0.9" fill="none" stroke-dasharray="3,1.5,1,1.5"/><path d="M148.55,260.08H150.95M148.55,265.43H150.95" stroke="#ff7022" stroke-width="0.9" fill="none"/><path d="M165.41,257.09V257.45M165.41,261.85V262.20" stroke="#ff7022" stroke-width="0.9" fill="none" stroke-dasharray="3,1.5,1,1.5"/><path d="M164.21,257.09H166.61M164.21,262.20H166.61" stroke="#ff7022" stroke-width="0.9" fill="none"/><rect x="53.51" y="269.72" width="4.60" height="4.60" fill="#ff7022"/><rect x="61.34" y="267.82" width="4.60" height="4.60" fill="#ff7022"/><rect x="69.17" y="263.09" width="4.60" height="4.60" fill="#ff7022"/><rect x="77.00" y="272.13" width="4.60" height="4.60" fill="#ff7022"/><rect x="84.83" y="271.36" width="4.60" height="4.60" fill="#ff7022"/><rect x="92.65" y="267.63" width="4.60" height="4.60" fill="#ff7022"/><rect x="100.48" y="268.67" width="4.60" height="4.60" fill="#ff7022"/><rect x="108.31" y="263.36" width="4.60" height="4.60" fill="#ff7022"/><rect x="116.14" y="266.32" width="4.60" height="4.60" fill="#ff7022"/><rect x="123.97" y="260.61" width="4.60" height="4.60" fill="#ff7022"/><rect x="131.79" y="263.70" width="4.60" height="4.60" fill="#ff7022"/><rect x="139.62" y="255.27" width="4.60" height="4.60" fill="#ff7022"/><rect x="147.45" y="260.46" width="4.60" height="4.60" fill="#ff7022"/><rect x="155.28" y="255.78" width="4.60" height="4.60" fill="#ff7022"/><rect x="163.11" y="257.35" width="4.60" height="4.60" fill="#ff7022"/><rect x="170.93" y="254.72" width="4.60" height="4.60" fill="#ff7022"/><rect x="178.76" y="253.31" width="4.60" height="4.60" fill="#ff7022"/><rect x="186.59" y="250.71" width="4.60" height="4.60" fill="#ff7022"/><rect x="194.42" y="250.86" width="4.60" height="4.60" fill="#ff7022"/><rect x="202.25" y="250.44" width="4.60" height="4.60" fill="#ff7022"/><rect x="210.08" y="246.97" width="4.60" height="4.60" fill="#ff7022"/><rect x="217.90" y="244.57" width="4.60" height="4.60" fill="#ff7022"/><rect x="225.73" y="241.08" width="4.60" height="4.60" fill="#ff7022"/><rect x="233.56" y="238.55" width="4.60" height="4.60" fill="#ff7022"/><rect x="241.39" y="235.77" width="4.60" height="4.60" fill="#ff7022"/><rect x="249.22" y="232.04" width="4.60" height="4.60" fill="#ff7022"/><rect x="257.04" y="229.11" width="4.60" height="4.60" fill="#ff7022"/><rect x="264.87" y="222.93" width="4.60" height="4.60" fill="#ff7022"/><rect x="272.70" y="219.52" width="4.60" height="4.60" fill="#ff7022"/><rect x="280.53" y="216.12" width="4.60" height="4.60" fill="#ff7022"/><rect x="288.36" y="208.63" width="4.60" height="4.60" fill="#ff7022"/><rect x="296.18" y="205.90" width="4.60" height="4.60" fill="#ff7022"/><rect x="304.01" y="198.55" width="4.60" height="4.60" fill="#ff7022"/><rect x="311.84" y="190.58" width="4.60" height="4.60" fill="#ff7022"/><rect x="319.67" y="181.35" width="4.60" height="4.60" fill="#ff7022"/><rect x="327.50" y="173.25" width="4.60" height="4.60" fill="#ff7022"/><rect x="335.32" y="162.82" width="4.60" height="4.60" fill="#ff7022"/><rect x="343.15" y="150.09" width="4.60" height="4.60" fill="#ff7022"/><rect x="350.98" y="134.45" width="4.60" height="4.60" fill="#ff7022"/><rect x="358.81" y="107.60" width="4.60" height="4.60" fill="#ff7022"/></g>
<g clip-path="url(#cm)"><polyline points="55.81,263.92 63.64,264.08 71.47,263.29 79.30,261.46 87.13,266.38 94.95,265.39 102.78,260.60 110.61,256.39 118.44,256.33 126.27,258.62 134.09,256.52 141.92,258.28 149.75,255.33 157.58,254.42 165.41,254.42 173.23,248.96 181.06,256.92 188.89,254.71 196.72,246.98 204.55,245.10 212.38,248.20 220.20,244.31 228.03,237.83 235.86,237.22 243.69,234.23 251.52,229.44 259.34,226.93 267.17,222.46 275.00,217.34 282.83,212.66 290.66,207.13 298.48,203.51 306.31,196.63 314.14,190.14 321.97,182.16 329.80,173.38 337.62,162.13 345.45,150.72 353.28,136.35 361.11,113.56" fill="none" stroke="#11bb11" stroke-width="1.0" stroke-dasharray="2.6,1.5"/><path d="M55.81,261.20V261.72M55.81,266.12V266.64" stroke="#11bb11" stroke-width="0.9" fill="none" stroke-dasharray="2.6,1.5"/><path d="M54.61,261.20H57.01M54.61,266.64H57.01" stroke="#11bb11" stroke-width="0.9" fill="none"/><path d="M63.64,261.36V261.88M63.64,266.28V266.81" stroke="#11bb11" stroke-width="0.9" fill="none" stroke-dasharray="2.6,1.5"/><path d="M62.44,261.36H64.84M62.44,266.81H64.84" stroke="#11bb11" stroke-width="0.9" fill="none"/><path d="M71.47,260.60V261.09M71.47,265.49V265.99" stroke="#11bb11" stroke-width="0.9" fill="none" stroke-dasharray="2.6,1.5"/><path d="M70.27,260.60H72.67M70.27,265.99H72.67" stroke="#11bb11" stroke-width="0.9" fill="none"/><path d="M79.30,258.83V259.26M79.30,263.66V264.08" stroke="#11bb11" stroke-width="0.9" fill="none" stroke-dasharray="2.6,1.5"/><path d="M78.10,258.83H80.50M78.10,264.08H80.50" stroke="#11bb11" stroke-width="0.9" fill="none"/><path d="M87.13,263.56V264.18M87.13,268.58V269.20" stroke="#11bb11" stroke-width="0.9" fill="none" stroke-dasharray="2.6,1.5"/><path d="M85.93,263.56H88.33M85.93,269.20H88.33" stroke="#11bb11" stroke-width="0.9" fill="none"/><path d="M94.95,262.61V263.19M94.95,267.59V268.16" stroke="#11bb11" stroke-width="0.9" fill="none" stroke-dasharray="2.6,1.5"/><path d="M93.75,262.61H96.15M93.75,268.16H96.15" stroke="#11bb11" stroke-width="0.9" fill="none"/><path d="M102.78,258.01V258.40M102.78,262.80V263.19" stroke="#11bb11" stroke-width="0.9" fill="none" stroke-dasharray="2.6,1.5"/><path d="M101.58,258.01H103.98M101.58,263.19H103.98" stroke="#11bb11" stroke-width="0.9" fill="none"/><path d="M126.27,256.10V256.42M126.27,260.82V261.13" stroke="#11bb11" stroke-width="0.9" fill="none" stroke-dasharray="2.6,1.5"/><path d="M125.07,256.10H127.47M125.07,261.13H127.47" stroke="#11bb11" stroke-width="0.9" fill="none"/><path d="M141.92,255.78V256.08M141.92,260.48V260.79" stroke="#11bb11" stroke-width="0.9" fill="none" stroke-dasharray="2.6,1.5"/><path d="M140.72,255.78H143.12M140.72,260.79H143.12" stroke="#11bb11" stroke-width="0.9" fill="none"/><path d="M53.21,262.12 L58.41,262.12 L55.81,266.62 Z" fill="#11bb11"/><path d="M61.04,262.28 L66.24,262.28 L63.64,266.78 Z" fill="#11bb11"/><path d="M68.87,261.49 L74.07,261.49 L71.47,265.99 Z" fill="#11bb11"/><path d="M76.70,259.66 L81.90,259.66 L79.30,264.16 Z" fill="#11bb11"/><path d="M84.53,264.58 L89.73,264.58 L87.13,269.08 Z" fill="#11bb11"/><path d="M92.35,263.59 L97.55,263.59 L94.95,268.09 Z" fill="#11bb11"/><path d="M100.18,258.80 L105.38,258.80 L102.78,263.30 Z" fill="#11bb11"/><path d="M108.01,254.59 L113.21,254.59 L110.61,259.09 Z" fill="#11bb11"/><path d="M115.84,254.53 L121.04,254.53 L118.44,259.03 Z" fill="#11bb11"/><path d="M123.67,256.82 L128.87,256.82 L126.27,261.32 Z" fill="#11bb11"/><path d="M131.49,254.72 L136.69,254.72 L134.09,259.22 Z" fill="#11bb11"/><path d="M139.32,256.48 L144.52,256.48 L141.92,260.98 Z" fill="#11bb11"/><path d="M147.15,253.53 L152.35,253.53 L149.75,258.03 Z" fill="#11bb11"/><path d="M154.98,252.62 L160.18,252.62 L157.58,257.12 Z" fill="#11bb11"/><path d="M162.81,252.62 L168.01,252.62 L165.41,257.12 Z" fill="#11bb11"/><path d="M170.63,247.16 L175.83,247.16 L173.23,251.66 Z" fill="#11bb11"/><path d="M178.46,255.12 L183.66,255.12 L181.06,259.62 Z" fill="#11bb11"/><path d="M186.29,252.91 L191.49,252.91 L188.89,257.41 Z" fill="#11bb11"/><path d="M194.12,245.18 L199.32,245.18 L196.72,249.68 Z" fill="#11bb11"/><path d="M201.95,243.30 L207.15,243.30 L204.55,247.80 Z" fill="#11bb11"/><path d="M209.78,246.40 L214.98,246.40 L212.38,250.90 Z" fill="#11bb11"/><path d="M217.60,242.51 L222.80,242.51 L220.20,247.01 Z" fill="#11bb11"/><path d="M225.43,236.03 L230.63,236.03 L228.03,240.53 Z" fill="#11bb11"/><path d="M233.26,235.42 L238.46,235.42 L235.86,239.92 Z" fill="#11bb11"/><path d="M241.09,232.43 L246.29,232.43 L243.69,236.93 Z" fill="#11bb11"/><path d="M248.92,227.64 L254.12,227.64 L251.52,232.14 Z" fill="#11bb11"/><path d="M256.74,225.13 L261.94,225.13 L259.34,229.63 Z" fill="#11bb11"/><path d="M264.57,220.66 L269.77,220.66 L267.17,225.16 Z" fill="#11bb11"/><path d="M272.40,215.54 L277.60,215.54 L275.00,220.04 Z" fill="#11bb11"/><path d="M280.23,210.86 L285.43,210.86 L282.83,215.36 Z" fill="#11bb11"/><path d="M288.06,205.33 L293.26,205.33 L290.66,209.83 Z" fill="#11bb11"/><path d="M295.88,201.71 L301.08,201.71 L298.48,206.21 Z" fill="#11bb11"/><path d="M303.71,194.83 L308.91,194.83 L306.31,199.33 Z" fill="#11bb11"/><path d="M311.54,188.34 L316.74,188.34 L314.14,192.84 Z" fill="#11bb11"/><path d="M319.37,180.36 L324.57,180.36 L321.97,184.86 Z" fill="#11bb11"/><path d="M327.20,171.58 L332.40,171.58 L329.80,176.08 Z" fill="#11bb11"/><path d="M335.02,160.33 L340.22,160.33 L337.62,164.83 Z" fill="#11bb11"/><path d="M342.85,148.92 L348.05,148.92 L345.45,153.42 Z" fill="#11bb11"/><path d="M350.68,134.55 L355.88,134.55 L353.28,139.05 Z" fill="#11bb11"/><path d="M358.51,111.76 L363.71,111.76 L361.11,116.26 Z" fill="#11bb11"/></g>
<g clip-path="url(#cm)"><polyline points="55.81,256.57 63.64,256.37 71.47,254.66 79.30,255.13 87.13,253.77 94.95,252.84 102.78,254.95 110.61,255.18 118.44,251.75 126.27,249.38 134.09,250.44 141.92,248.87 149.75,248.83 157.58,244.64 165.41,244.97 173.23,243.06 181.06,242.81 188.89,239.50 196.72,237.74 204.55,233.37 212.38,233.64 220.20,231.66 228.03,228.45 235.86,226.03 243.69,220.62 251.52,219.56 259.34,213.22 267.17,211.52 275.00,209.60 282.83,203.92 290.66,199.49 298.48,195.27 306.31,189.63 314.14,183.57 321.97,176.44 329.80,168.48 337.62,160.85 345.45,151.82 353.28,141.22 361.11,122.72" fill="none" stroke="#ff2255" stroke-width="1.0" stroke-dasharray="2.6,1.5"/><circle cx="55.81" cy="256.57" r="2.15" fill="none" stroke="#ff2255" stroke-width="0.9"/><circle cx="63.64" cy="256.37" r="2.15" fill="none" stroke="#ff2255" stroke-width="0.9"/><circle cx="71.47" cy="254.66" r="2.15" fill="none" stroke="#ff2255" stroke-width="0.9"/><circle cx="79.30" cy="255.13" r="2.15" fill="none" stroke="#ff2255" stroke-width="0.9"/><circle cx="87.13" cy="253.77" r="2.15" fill="none" stroke="#ff2255" stroke-width="0.9"/><circle cx="94.95" cy="252.84" r="2.15" fill="none" stroke="#ff2255" stroke-width="0.9"/><circle cx="102.78" cy="254.95" r="2.15" fill="none" stroke="#ff2255" stroke-width="0.9"/><circle cx="110.61" cy="255.18" r="2.15" fill="none" stroke="#ff2255" stroke-width="0.9"/><circle cx="118.44" cy="251.75" r="2.15" fill="none" stroke="#ff2255" stroke-width="0.9"/><circle cx="126.27" cy="249.38" r="2.15" fill="none" stroke="#ff2255" stroke-width="0.9"/><circle cx="134.09" cy="250.44" r="2.15" fill="none" stroke="#ff2255" stroke-width="0.9"/><circle cx="141.92" cy="248.87" r="2.15" fill="none" stroke="#ff2255" stroke-width="0.9"/><circle cx="149.75" cy="248.83" r="2.15" fill="none" stroke="#ff2255" stroke-width="0.9"/><circle cx="157.58" cy="244.64" r="2.15" fill="none" stroke="#ff2255" stroke-width="0.9"/><circle cx="165.41" cy="244.97" r="2.15" fill="none" stroke="#ff2255" stroke-width="0.9"/><circle cx="173.23" cy="243.06" r="2.15" fill="none" stroke="#ff2255" stroke-width="0.9"/><circle cx="181.06" cy="242.81" r="2.15" fill="none" stroke="#ff2255" stroke-width="0.9"/><circle cx="188.89" cy="239.50" r="2.15" fill="none" stroke="#ff2255" stroke-width="0.9"/><circle cx="196.72" cy="237.74" r="2.15" fill="none" stroke="#ff2255" stroke-width="0.9"/><circle cx="204.55" cy="233.37" r="2.15" fill="none" stroke="#ff2255" stroke-width="0.9"/><circle cx="212.38" cy="233.64" r="2.15" fill="none" stroke="#ff2255" stroke-width="0.9"/><circle cx="220.20" cy="231.66" r="2.15" fill="none" stroke="#ff2255" stroke-width="0.9"/><circle cx="228.03" cy="228.45" r="2.15" fill="none" stroke="#ff2255" stroke-width="0.9"/><circle cx="235.86" cy="226.03" r="2.15" fill="none" stroke="#ff2255" stroke-width="0.9"/><circle cx="243.69" cy="220.62" r="2.15" fill="none" stroke="#ff2255" stroke-width="0.9"/><circle cx="251.52" cy="219.56" r="2.15" fill="none" stroke="#ff2255" stroke-width="0.9"/><circle cx="259.34" cy="213.22" r="2.15" fill="none" stroke="#ff2255" stroke-width="0.9"/><circle cx="267.17" cy="211.52" r="2.15" fill="none" stroke="#ff2255" stroke-width="0.9"/><circle cx="275.00" cy="209.60" r="2.15" fill="none" stroke="#ff2255" stroke-width="0.9"/><circle cx="282.83" cy="203.92" r="2.15" fill="none" stroke="#ff2255" stroke-width="0.9"/><circle cx="290.66" cy="199.49" r="2.15" fill="none" stroke="#ff2255" stroke-width="0.9"/><circle cx="298.48" cy="195.27" r="2.15" fill="none" stroke="#ff2255" stroke-width="0.9"/><circle cx="306.31" cy="189.63" r="2.15" fill="none" stroke="#ff2255" stroke-width="0.9"/><circle cx="314.14" cy="183.57" r="2.15" fill="none" stroke="#ff2255" stroke-width="0.9"/><circle cx="321.97" cy="176.44" r="2.15" fill="none" stroke="#ff2255" stroke-width="0.9"/><circle cx="329.80" cy="168.48" r="2.15" fill="none" stroke="#ff2255" stroke-width="0.9"/><circle cx="337.62" cy="160.85" r="2.15" fill="none" stroke="#ff2255" stroke-width="0.9"/><circle cx="345.45" cy="151.82" r="2.15" fill="none" stroke="#ff2255" stroke-width="0.9"/><circle cx="353.28" cy="141.22" r="2.15" fill="none" stroke="#ff2255" stroke-width="0.9"/><circle cx="361.11" cy="122.72" r="2.15" fill="none" stroke="#ff2255" stroke-width="0.9"/></g>
<g clip-path="url(#cm)"><polyline points="55.81,265.17 63.64,265.86 71.47,265.43 79.30,263.41 87.13,258.56 94.95,261.34 102.78,260.84 110.61,260.26 118.44,263.90 126.27,260.71 134.09,255.17 141.92,258.50 149.75,252.95 157.58,249.94 165.41,251.15 173.23,244.44 181.06,248.61 188.89,246.01 196.72,241.26 204.55,238.84 212.38,238.86 220.20,232.94 228.03,231.12 235.86,226.24 243.69,222.22 251.52,223.61 259.34,215.71 267.17,212.80 275.00,207.89 282.83,203.00 290.66,198.10 298.48,193.99 306.31,187.07 314.14,181.86 321.97,173.35 329.80,167.66 337.62,159.61 345.45,148.59 353.28,139.09 361.11,123.68" fill="none" stroke="#444444" stroke-width="0.9"/><path d="M55.81,262.40V262.97M55.81,267.37V267.94" stroke="#444444" stroke-width="0.9" fill="none"/><path d="M54.61,262.40H57.01M54.61,267.94H57.01" stroke="#444444" stroke-width="0.9" fill="none"/><path d="M63.64,263.06V263.66M63.64,268.06V268.65" stroke="#444444" stroke-width="0.9" fill="none"/><path d="M62.44,263.06H64.84M62.44,268.65H64.84" stroke="#444444" stroke-width="0.9" fill="none"/><path d="M71.47,262.65V263.23M71.47,267.63V268.21" stroke="#444444" stroke-width="0.9" fill="none"/><path d="M70.27,262.65H72.67M70.27,268.21H72.67" stroke="#444444" stroke-width="0.9" fill="none"/><path d="M79.30,260.71V261.21M79.30,265.61V266.11" stroke="#444444" stroke-width="0.9" fill="none"/><path d="M78.10,260.71H80.50M78.10,266.11H80.50" stroke="#444444" stroke-width="0.9" fill="none"/><path d="M87.13,256.05V256.36M87.13,260.76V261.08" stroke="#444444" stroke-width="0.9" fill="none"/><path d="M85.93,256.05H88.33M85.93,261.08H88.33" stroke="#444444" stroke-width="0.9" fill="none"/><path d="M94.95,258.72V259.14M94.95,263.54V263.95" stroke="#444444" stroke-width="0.9" fill="none"/><path d="M93.75,258.72H96.15M93.75,263.95H96.15" stroke="#444444" stroke-width="0.9" fill="none"/><path d="M102.78,258.24V258.64M102.78,263.04V263.44" stroke="#444444" stroke-width="0.9" fill="none"/><path d="M101.58,258.24H103.98M101.58,263.44H103.98" stroke="#444444" stroke-width="0.9" fill="none"/><path d="M110.61,257.69V258.06M110.61,262.46V262.84" stroke="#444444" stroke-width="0.9" fill="none"/><path d="M109.41,257.69H111.81M109.41,262.84H111.81" stroke="#444444" stroke-width="0.9" fill="none"/><path d="M118.44,261.18V261.70M118.44,266.10V266.62" stroke="#444444" stroke-width="0.9" fill="none"/><path d="M117.24,261.18H119.64M117.24,266.62H119.64" stroke="#444444" stroke-width="0.9" fill="none"/><path d="M126.27,258.12V258.51M126.27,262.91V263.31" stroke="#444444" stroke-width="0.9" fill="none"/><path d="M125.07,258.12H127.47M125.07,263.31H127.47" stroke="#444444" stroke-width="0.9" fill="none"/><path d="M141.92,255.98V256.30M141.92,260.70V261.01" stroke="#444444" stroke-width="0.9" fill="none"/><path d="M140.72,255.98H143.12M140.72,261.01H143.12" stroke="#444444" stroke-width="0.9" fill="none"/><circle cx="55.81" cy="265.17" r="2.15" fill="none" stroke="#444444" stroke-width="0.9"/><circle cx="63.64" cy="265.86" r="2.15" fill="none" stroke="#444444" stroke-width="0.9"/><circle cx="71.47" cy="265.43" r="2.15" fill="none" stroke="#444444" stroke-width="0.9"/><circle cx="79.30" cy="263.41" r="2.15" fill="none" stroke="#444444" stroke-width="0.9"/><circle cx="87.13" cy="258.56" r="2.15" fill="none" stroke="#444444" stroke-width="0.9"/><circle cx="94.95" cy="261.34" r="2.15" fill="none" stroke="#444444" stroke-width="0.9"/><circle cx="102.78" cy="260.84" r="2.15" fill="none" stroke="#444444" stroke-width="0.9"/><circle cx="110.61" cy="260.26" r="2.15" fill="none" stroke="#444444" stroke-width="0.9"/><circle cx="118.44" cy="263.90" r="2.15" fill="none" stroke="#444444" stroke-width="0.9"/><circle cx="126.27" cy="260.71" r="2.15" fill="none" stroke="#444444" stroke-width="0.9"/><circle cx="134.09" cy="255.17" r="2.15" fill="none" stroke="#444444" stroke-width="0.9"/><circle cx="141.92" cy="258.50" r="2.15" fill="none" stroke="#444444" stroke-width="0.9"/><circle cx="149.75" cy="252.95" r="2.15" fill="none" stroke="#444444" stroke-width="0.9"/><circle cx="157.58" cy="249.94" r="2.15" fill="none" stroke="#444444" stroke-width="0.9"/><circle cx="165.41" cy="251.15" r="2.15" fill="none" stroke="#444444" stroke-width="0.9"/><circle cx="173.23" cy="244.44" r="2.15" fill="none" stroke="#444444" stroke-width="0.9"/><circle cx="181.06" cy="248.61" r="2.15" fill="none" stroke="#444444" stroke-width="0.9"/><circle cx="188.89" cy="246.01" r="2.15" fill="none" stroke="#444444" stroke-width="0.9"/><circle cx="196.72" cy="241.26" r="2.15" fill="none" stroke="#444444" stroke-width="0.9"/><circle cx="204.55" cy="238.84" r="2.15" fill="none" stroke="#444444" stroke-width="0.9"/><circle cx="212.38" cy="238.86" r="2.15" fill="none" stroke="#444444" stroke-width="0.9"/><circle cx="220.20" cy="232.94" r="2.15" fill="none" stroke="#444444" stroke-width="0.9"/><circle cx="228.03" cy="231.12" r="2.15" fill="none" stroke="#444444" stroke-width="0.9"/><circle cx="235.86" cy="226.24" r="2.15" fill="none" stroke="#444444" stroke-width="0.9"/><circle cx="243.69" cy="222.22" r="2.15" fill="none" stroke="#444444" stroke-width="0.9"/><circle cx="251.52" cy="223.61" r="2.15" fill="none" stroke="#444444" stroke-width="0.9"/><circle cx="259.34" cy="215.71" r="2.15" fill="none" stroke="#444444" stroke-width="0.9"/><circle cx="267.17" cy="212.80" r="2.15" fill="none" stroke="#444444" stroke-width="0.9"/><circle cx="275.00" cy="207.89" r="2.15" fill="none" stroke="#444444" stroke-width="0.9"/><circle cx="282.83" cy="203.00" r="2.15" fill="none" stroke="#444444" stroke-width="0.9"/><circle cx="290.66" cy="198.10" r="2.15" fill="none" stroke="#444444" stroke-width="0.9"/><circle cx="298.48" cy="193.99" r="2.15" fill="none" stroke="#444444" stroke-width="0.9"/><circle cx="306.31" cy="187.07" r="2.15" fill="none" stroke="#444444" stroke-width="0.9"/><circle cx="314.14" cy="181.86" r="2.15" fill="none" stroke="#444444" stroke-width="0.9"/><circle cx="321.97" cy="173.35" r="2.15" fill="none" stroke="#444444" stroke-width="0.9"/><circle cx="329.80" cy="167.66" r="2.15" fill="none" stroke="#444444" stroke-width="0.9"/><circle cx="337.62" cy="159.61" r="2.15" fill="none" stroke="#444444" stroke-width="0.9"/><circle cx="345.45" cy="148.59" r="2.15" fill="none" stroke="#444444" stroke-width="0.9"/><circle cx="353.28" cy="139.09" r="2.15" fill="none" stroke="#444444" stroke-width="0.9"/><circle cx="361.11" cy="123.68" r="2.15" fill="none" stroke="#444444" stroke-width="0.9"/></g>
<g><line x1="51.90" y1="17.60" x2="51.90" y2="25.40" stroke="#000" stroke-width="1.0"/><line x1="51.90" y1="317.55" x2="51.90" y2="309.75" stroke="#000" stroke-width="1.0"/><line x1="51.90" y1="317.55" x2="51.90" y2="322.35" stroke="#000" stroke-width="1.0"/><line x1="51.90" y1="477.80" x2="51.90" y2="473.00" stroke="#000" stroke-width="1.0"/><line x1="61.87" y1="17.60" x2="61.87" y2="19.90" stroke="#000" stroke-width="1.0"/><line x1="61.87" y1="317.55" x2="61.87" y2="315.25" stroke="#000" stroke-width="1.0"/><line x1="61.87" y1="317.55" x2="61.87" y2="319.05" stroke="#000" stroke-width="1.0"/><line x1="61.87" y1="477.80" x2="61.87" y2="476.30" stroke="#000" stroke-width="1.0"/><line x1="71.83" y1="17.60" x2="71.83" y2="21.60" stroke="#000" stroke-width="1.0"/><line x1="71.83" y1="317.55" x2="71.83" y2="313.55" stroke="#000" stroke-width="1.0"/><line x1="71.83" y1="317.55" x2="71.83" y2="320.25" stroke="#000" stroke-width="1.0"/><line x1="71.83" y1="477.80" x2="71.83" y2="475.10" stroke="#000" stroke-width="1.0"/><line x1="81.80" y1="17.60" x2="81.80" y2="19.90" stroke="#000" stroke-width="1.0"/><line x1="81.80" y1="317.55" x2="81.80" y2="315.25" stroke="#000" stroke-width="1.0"/><line x1="81.80" y1="317.55" x2="81.80" y2="319.05" stroke="#000" stroke-width="1.0"/><line x1="81.80" y1="477.80" x2="81.80" y2="476.30" stroke="#000" stroke-width="1.0"/><line x1="91.77" y1="17.60" x2="91.77" y2="21.60" stroke="#000" stroke-width="1.0"/><line x1="91.77" y1="317.55" x2="91.77" y2="313.55" stroke="#000" stroke-width="1.0"/><line x1="91.77" y1="317.55" x2="91.77" y2="320.25" stroke="#000" stroke-width="1.0"/><line x1="91.77" y1="477.80" x2="91.77" y2="475.10" stroke="#000" stroke-width="1.0"/><line x1="101.73" y1="17.60" x2="101.73" y2="19.90" stroke="#000" stroke-width="1.0"/><line x1="101.73" y1="317.55" x2="101.73" y2="315.25" stroke="#000" stroke-width="1.0"/><line x1="101.73" y1="317.55" x2="101.73" y2="319.05" stroke="#000" stroke-width="1.0"/><line x1="101.73" y1="477.80" x2="101.73" y2="476.30" stroke="#000" stroke-width="1.0"/><line x1="111.70" y1="17.60" x2="111.70" y2="21.60" stroke="#000" stroke-width="1.0"/><line x1="111.70" y1="317.55" x2="111.70" y2="313.55" stroke="#000" stroke-width="1.0"/><line x1="111.70" y1="317.55" x2="111.70" y2="320.25" stroke="#000" stroke-width="1.0"/><line x1="111.70" y1="477.80" x2="111.70" y2="475.10" stroke="#000" stroke-width="1.0"/><line x1="121.67" y1="17.60" x2="121.67" y2="19.90" stroke="#000" stroke-width="1.0"/><line x1="121.67" y1="317.55" x2="121.67" y2="315.25" stroke="#000" stroke-width="1.0"/><line x1="121.67" y1="317.55" x2="121.67" y2="319.05" stroke="#000" stroke-width="1.0"/><line x1="121.67" y1="477.80" x2="121.67" y2="476.30" stroke="#000" stroke-width="1.0"/><line x1="131.64" y1="17.60" x2="131.64" y2="21.60" stroke="#000" stroke-width="1.0"/><line x1="131.64" y1="317.55" x2="131.64" y2="313.55" stroke="#000" stroke-width="1.0"/><line x1="131.64" y1="317.55" x2="131.64" y2="320.25" stroke="#000" stroke-width="1.0"/><line x1="131.64" y1="477.80" x2="131.64" y2="475.10" stroke="#000" stroke-width="1.0"/><line x1="141.60" y1="17.60" x2="141.60" y2="19.90" stroke="#000" stroke-width="1.0"/><line x1="141.60" y1="317.55" x2="141.60" y2="315.25" stroke="#000" stroke-width="1.0"/><line x1="141.60" y1="317.55" x2="141.60" y2="319.05" stroke="#000" stroke-width="1.0"/><line x1="141.60" y1="477.80" x2="141.60" y2="476.30" stroke="#000" stroke-width="1.0"/><line x1="151.57" y1="17.60" x2="151.57" y2="25.40" stroke="#000" stroke-width="1.0"/><line x1="151.57" y1="317.55" x2="151.57" y2="309.75" stroke="#000" stroke-width="1.0"/><line x1="151.57" y1="317.55" x2="151.57" y2="322.35" stroke="#000" stroke-width="1.0"/><line x1="151.57" y1="477.80" x2="151.57" y2="473.00" stroke="#000" stroke-width="1.0"/><line x1="161.54" y1="17.60" x2="161.54" y2="19.90" stroke="#000" stroke-width="1.0"/><line x1="161.54" y1="317.55" x2="161.54" y2="315.25" stroke="#000" stroke-width="1.0"/><line x1="161.54" y1="317.55" x2="161.54" y2="319.05" stroke="#000" stroke-width="1.0"/><line x1="161.54" y1="477.80" x2="161.54" y2="476.30" stroke="#000" stroke-width="1.0"/><line x1="171.50" y1="17.60" x2="171.50" y2="21.60" stroke="#000" stroke-width="1.0"/><line x1="171.50" y1="317.55" x2="171.50" y2="313.55" stroke="#000" stroke-width="1.0"/><line x1="171.50" y1="317.55" x2="171.50" y2="320.25" stroke="#000" stroke-width="1.0"/><line x1="171.50" y1="477.80" x2="171.50" y2="475.10" stroke="#000" stroke-width="1.0"/><line x1="181.47" y1="17.60" x2="181.47" y2="19.90" stroke="#000" stroke-width="1.0"/><line x1="181.47" y1="317.55" x2="181.47" y2="315.25" stroke="#000" stroke-width="1.0"/><line x1="181.47" y1="317.55" x2="181.47" y2="319.05" stroke="#000" stroke-width="1.0"/><line x1="181.47" y1="477.80" x2="181.47" y2="476.30" stroke="#000" stroke-width="1.0"/><line x1="191.44" y1="17.60" x2="191.44" y2="21.60" stroke="#000" stroke-width="1.0"/><line x1="191.44" y1="317.55" x2="191.44" y2="313.55" stroke="#000" stroke-width="1.0"/><line x1="191.44" y1="317.55" x2="191.44" y2="320.25" stroke="#000" stroke-width="1.0"/><line x1="191.44" y1="477.80" x2="191.44" y2="475.10" stroke="#000" stroke-width="1.0"/><line x1="201.41" y1="17.60" x2="201.41" y2="19.90" stroke="#000" stroke-width="1.0"/><line x1="201.41" y1="317.55" x2="201.41" y2="315.25" stroke="#000" stroke-width="1.0"/><line x1="201.41" y1="317.55" x2="201.41" y2="319.05" stroke="#000" stroke-width="1.0"/><line x1="201.41" y1="477.80" x2="201.41" y2="476.30" stroke="#000" stroke-width="1.0"/><line x1="211.37" y1="17.60" x2="211.37" y2="21.60" stroke="#000" stroke-width="1.0"/><line x1="211.37" y1="317.55" x2="211.37" y2="313.55" stroke="#000" stroke-width="1.0"/><line x1="211.37" y1="317.55" x2="211.37" y2="320.25" stroke="#000" stroke-width="1.0"/><line x1="211.37" y1="477.80" x2="211.37" y2="475.10" stroke="#000" stroke-width="1.0"/><line x1="221.34" y1="17.60" x2="221.34" y2="19.90" stroke="#000" stroke-width="1.0"/><line x1="221.34" y1="317.55" x2="221.34" y2="315.25" stroke="#000" stroke-width="1.0"/><line x1="221.34" y1="317.55" x2="221.34" y2="319.05" stroke="#000" stroke-width="1.0"/><line x1="221.34" y1="477.80" x2="221.34" y2="476.30" stroke="#000" stroke-width="1.0"/><line x1="231.31" y1="17.60" x2="231.31" y2="21.60" stroke="#000" stroke-width="1.0"/><line x1="231.31" y1="317.55" x2="231.31" y2="313.55" stroke="#000" stroke-width="1.0"/><line x1="231.31" y1="317.55" x2="231.31" y2="320.25" stroke="#000" stroke-width="1.0"/><line x1="231.31" y1="477.80" x2="231.31" y2="475.10" stroke="#000" stroke-width="1.0"/><line x1="241.27" y1="17.60" x2="241.27" y2="19.90" stroke="#000" stroke-width="1.0"/><line x1="241.27" y1="317.55" x2="241.27" y2="315.25" stroke="#000" stroke-width="1.0"/><line x1="241.27" y1="317.55" x2="241.27" y2="319.05" stroke="#000" stroke-width="1.0"/><line x1="241.27" y1="477.80" x2="241.27" y2="476.30" stroke="#000" stroke-width="1.0"/><line x1="251.24" y1="17.60" x2="251.24" y2="25.40" stroke="#000" stroke-width="1.0"/><line x1="251.24" y1="317.55" x2="251.24" y2="309.75" stroke="#000" stroke-width="1.0"/><line x1="251.24" y1="317.55" x2="251.24" y2="322.35" stroke="#000" stroke-width="1.0"/><line x1="251.24" y1="477.80" x2="251.24" y2="473.00" stroke="#000" stroke-width="1.0"/><line x1="261.21" y1="17.60" x2="261.21" y2="19.90" stroke="#000" stroke-width="1.0"/><line x1="261.21" y1="317.55" x2="261.21" y2="315.25" stroke="#000" stroke-width="1.0"/><line x1="261.21" y1="317.55" x2="261.21" y2="319.05" stroke="#000" stroke-width="1.0"/><line x1="261.21" y1="477.80" x2="261.21" y2="476.30" stroke="#000" stroke-width="1.0"/><line x1="271.17" y1="17.60" x2="271.17" y2="21.60" stroke="#000" stroke-width="1.0"/><line x1="271.17" y1="317.55" x2="271.17" y2="313.55" stroke="#000" stroke-width="1.0"/><line x1="271.17" y1="317.55" x2="271.17" y2="320.25" stroke="#000" stroke-width="1.0"/><line x1="271.17" y1="477.80" x2="271.17" y2="475.10" stroke="#000" stroke-width="1.0"/><line x1="281.14" y1="17.60" x2="281.14" y2="19.90" stroke="#000" stroke-width="1.0"/><line x1="281.14" y1="317.55" x2="281.14" y2="315.25" stroke="#000" stroke-width="1.0"/><line x1="281.14" y1="317.55" x2="281.14" y2="319.05" stroke="#000" stroke-width="1.0"/><line x1="281.14" y1="477.80" x2="281.14" y2="476.30" stroke="#000" stroke-width="1.0"/><line x1="291.11" y1="17.60" x2="291.11" y2="21.60" stroke="#000" stroke-width="1.0"/><line x1="291.11" y1="317.55" x2="291.11" y2="313.55" stroke="#000" stroke-width="1.0"/><line x1="291.11" y1="317.55" x2="291.11" y2="320.25" stroke="#000" stroke-width="1.0"/><line x1="291.11" y1="477.80" x2="291.11" y2="475.10" stroke="#000" stroke-width="1.0"/><line x1="301.07" y1="17.60" x2="301.07" y2="19.90" stroke="#000" stroke-width="1.0"/><line x1="301.07" y1="317.55" x2="301.07" y2="315.25" stroke="#000" stroke-width="1.0"/><line x1="301.07" y1="317.55" x2="301.07" y2="319.05" stroke="#000" stroke-width="1.0"/><line x1="301.07" y1="477.80" x2="301.07" y2="476.30" stroke="#000" stroke-width="1.0"/><line x1="311.04" y1="17.60" x2="311.04" y2="21.60" stroke="#000" stroke-width="1.0"/><line x1="311.04" y1="317.55" x2="311.04" y2="313.55" stroke="#000" stroke-width="1.0"/><line x1="311.04" y1="317.55" x2="311.04" y2="320.25" stroke="#000" stroke-width="1.0"/><line x1="311.04" y1="477.80" x2="311.04" y2="475.10" stroke="#000" stroke-width="1.0"/><line x1="321.01" y1="17.60" x2="321.01" y2="19.90" stroke="#000" stroke-width="1.0"/><line x1="321.01" y1="317.55" x2="321.01" y2="315.25" stroke="#000" stroke-width="1.0"/><line x1="321.01" y1="317.55" x2="321.01" y2="319.05" stroke="#000" stroke-width="1.0"/><line x1="321.01" y1="477.80" x2="321.01" y2="476.30" stroke="#000" stroke-width="1.0"/><line x1="330.98" y1="17.60" x2="330.98" y2="21.60" stroke="#000" stroke-width="1.0"/><line x1="330.98" y1="317.55" x2="330.98" y2="313.55" stroke="#000" stroke-width="1.0"/><line x1="330.98" y1="317.55" x2="330.98" y2="320.25" stroke="#000" stroke-width="1.0"/><line x1="330.98" y1="477.80" x2="330.98" y2="475.10" stroke="#000" stroke-width="1.0"/><line x1="340.94" y1="17.60" x2="340.94" y2="19.90" stroke="#000" stroke-width="1.0"/><line x1="340.94" y1="317.55" x2="340.94" y2="315.25" stroke="#000" stroke-width="1.0"/><line x1="340.94" y1="317.55" x2="340.94" y2="319.05" stroke="#000" stroke-width="1.0"/><line x1="340.94" y1="477.80" x2="340.94" y2="476.30" stroke="#000" stroke-width="1.0"/><line x1="350.91" y1="17.60" x2="350.91" y2="25.40" stroke="#000" stroke-width="1.0"/><line x1="350.91" y1="317.55" x2="350.91" y2="309.75" stroke="#000" stroke-width="1.0"/><line x1="350.91" y1="317.55" x2="350.91" y2="322.35" stroke="#000" stroke-width="1.0"/><line x1="350.91" y1="477.80" x2="350.91" y2="473.00" stroke="#000" stroke-width="1.0"/><line x1="360.88" y1="17.60" x2="360.88" y2="19.90" stroke="#000" stroke-width="1.0"/><line x1="360.88" y1="317.55" x2="360.88" y2="315.25" stroke="#000" stroke-width="1.0"/><line x1="360.88" y1="317.55" x2="360.88" y2="319.05" stroke="#000" stroke-width="1.0"/><line x1="360.88" y1="477.80" x2="360.88" y2="476.30" stroke="#000" stroke-width="1.0"/><line x1="370.84" y1="17.60" x2="370.84" y2="21.60" stroke="#000" stroke-width="1.0"/><line x1="370.84" y1="317.55" x2="370.84" y2="313.55" stroke="#000" stroke-width="1.0"/><line x1="370.84" y1="317.55" x2="370.84" y2="320.25" stroke="#000" stroke-width="1.0"/><line x1="370.84" y1="477.80" x2="370.84" y2="475.10" stroke="#000" stroke-width="1.0"/><line x1="45.50" y1="312.91" x2="51.00" y2="312.91" stroke="#000" stroke-width="1.0"/><line x1="371.30" y1="312.91" x2="365.80" y2="312.91" stroke="#000" stroke-width="1.0"/><line x1="45.50" y1="303.99" x2="51.00" y2="303.99" stroke="#000" stroke-width="1.0"/><line x1="371.30" y1="303.99" x2="365.80" y2="303.99" stroke="#000" stroke-width="1.0"/><line x1="45.50" y1="297.08" x2="51.00" y2="297.08" stroke="#000" stroke-width="1.0"/><line x1="371.30" y1="297.08" x2="365.80" y2="297.08" stroke="#000" stroke-width="1.0"/><line x1="45.50" y1="291.43" x2="51.00" y2="291.43" stroke="#000" stroke-width="1.0"/><line x1="371.30" y1="291.43" x2="365.80" y2="291.43" stroke="#000" stroke-width="1.0"/><line x1="45.50" y1="286.65" x2="51.00" y2="286.65" stroke="#000" stroke-width="1.0"/><line x1="371.30" y1="286.65" x2="365.80" y2="286.65" stroke="#000" stroke-width="1.0"/><line x1="45.50" y1="282.51" x2="51.00" y2="282.51" stroke="#000" stroke-width="1.0"/><line x1="371.30" y1="282.51" x2="365.80" y2="282.51" stroke="#000" stroke-width="1.0"/><line x1="45.50" y1="278.86" x2="51.00" y2="278.86" stroke="#000" stroke-width="1.0"/><line x1="371.30" y1="278.86" x2="365.80" y2="278.86" stroke="#000" stroke-width="1.0"/><line x1="45.50" y1="275.60" x2="57.00" y2="275.60" stroke="#000" stroke-width="1.0"/><line x1="371.30" y1="275.60" x2="359.80" y2="275.60" stroke="#000" stroke-width="1.0"/><line x1="45.50" y1="254.12" x2="51.00" y2="254.12" stroke="#000" stroke-width="1.0"/><line x1="371.30" y1="254.12" x2="365.80" y2="254.12" stroke="#000" stroke-width="1.0"/><line x1="45.50" y1="241.56" x2="51.00" y2="241.56" stroke="#000" stroke-width="1.0"/><line x1="371.30" y1="241.56" x2="365.80" y2="241.56" stroke="#000" stroke-width="1.0"/><line x1="45.50" y1="232.64" x2="51.00" y2="232.64" stroke="#000" stroke-width="1.0"/><line x1="371.30" y1="232.64" x2="365.80" y2="232.64" stroke="#000" stroke-width="1.0"/><line x1="45.50" y1="225.73" x2="51.00" y2="225.73" stroke="#000" stroke-width="1.0"/><line x1="371.30" y1="225.73" x2="365.80" y2="225.73" stroke="#000" stroke-width="1.0"/><line x1="45.50" y1="220.08" x2="51.00" y2="220.08" stroke="#000" stroke-width="1.0"/><line x1="371.30" y1="220.08" x2="365.80" y2="220.08" stroke="#000" stroke-width="1.0"/><line x1="45.50" y1="215.30" x2="51.00" y2="215.30" stroke="#000" stroke-width="1.0"/><line x1="371.30" y1="215.30" x2="365.80" y2="215.30" stroke="#000" stroke-width="1.0"/><line x1="45.50" y1="211.16" x2="51.00" y2="211.16" stroke="#000" stroke-width="1.0"/><line x1="371.30" y1="211.16" x2="365.80" y2="211.16" stroke="#000" stroke-width="1.0"/><line x1="45.50" y1="207.51" x2="51.00" y2="207.51" stroke="#000" stroke-width="1.0"/><line x1="371.30" y1="207.51" x2="365.80" y2="207.51" stroke="#000" stroke-width="1.0"/><line x1="45.50" y1="204.25" x2="57.00" y2="204.25" stroke="#000" stroke-width="1.0"/><line x1="371.30" y1="204.25" x2="359.80" y2="204.25" stroke="#000" stroke-width="1.0"/><line x1="45.50" y1="182.77" x2="51.00" y2="182.77" stroke="#000" stroke-width="1.0"/><line x1="371.30" y1="182.77" x2="365.80" y2="182.77" stroke="#000" stroke-width="1.0"/><line x1="45.50" y1="170.21" x2="51.00" y2="170.21" stroke="#000" stroke-width="1.0"/><line x1="371.30" y1="170.21" x2="365.80" y2="170.21" stroke="#000" stroke-width="1.0"/><line x1="45.50" y1="161.29" x2="51.00" y2="161.29" stroke="#000" stroke-width="1.0"/><line x1="371.30" y1="161.29" x2="365.80" y2="161.29" stroke="#000" stroke-width="1.0"/><line x1="45.50" y1="154.38" x2="51.00" y2="154.38" stroke="#000" stroke-width="1.0"/><line x1="371.30" y1="154.38" x2="365.80" y2="154.38" stroke="#000" stroke-width="1.0"/><line x1="45.50" y1="148.73" x2="51.00" y2="148.73" stroke="#000" stroke-width="1.0"/><line x1="371.30" y1="148.73" x2="365.80" y2="148.73" stroke="#000" stroke-width="1.0"/><line x1="45.50" y1="143.95" x2="51.00" y2="143.95" stroke="#000" stroke-width="1.0"/><line x1="371.30" y1="143.95" x2="365.80" y2="143.95" stroke="#000" stroke-width="1.0"/><line x1="45.50" y1="139.81" x2="51.00" y2="139.81" stroke="#000" stroke-width="1.0"/><line x1="371.30" y1="139.81" x2="365.80" y2="139.81" stroke="#000" stroke-width="1.0"/><line x1="45.50" y1="136.16" x2="51.00" y2="136.16" stroke="#000" stroke-width="1.0"/><line x1="371.30" y1="136.16" x2="365.80" y2="136.16" stroke="#000" stroke-width="1.0"/><line x1="45.50" y1="132.90" x2="57.00" y2="132.90" stroke="#000" stroke-width="1.0"/><line x1="371.30" y1="132.90" x2="359.80" y2="132.90" stroke="#000" stroke-width="1.0"/><line x1="45.50" y1="111.42" x2="51.00" y2="111.42" stroke="#000" stroke-width="1.0"/><line x1="371.30" y1="111.42" x2="365.80" y2="111.42" stroke="#000" stroke-width="1.0"/><line x1="45.50" y1="98.86" x2="51.00" y2="98.86" stroke="#000" stroke-width="1.0"/><line x1="371.30" y1="98.86" x2="365.80" y2="98.86" stroke="#000" stroke-width="1.0"/><line x1="45.50" y1="89.94" x2="51.00" y2="89.94" stroke="#000" stroke-width="1.0"/><line x1="371.30" y1="89.94" x2="365.80" y2="89.94" stroke="#000" stroke-width="1.0"/><line x1="45.50" y1="83.03" x2="51.00" y2="83.03" stroke="#000" stroke-width="1.0"/><line x1="371.30" y1="83.03" x2="365.80" y2="83.03" stroke="#000" stroke-width="1.0"/><line x1="45.50" y1="77.38" x2="51.00" y2="77.38" stroke="#000" stroke-width="1.0"/><line x1="371.30" y1="77.38" x2="365.80" y2="77.38" stroke="#000" stroke-width="1.0"/><line x1="45.50" y1="72.60" x2="51.00" y2="72.60" stroke="#000" stroke-width="1.0"/><line x1="371.30" y1="72.60" x2="365.80" y2="72.60" stroke="#000" stroke-width="1.0"/><line x1="45.50" y1="68.46" x2="51.00" y2="68.46" stroke="#000" stroke-width="1.0"/><line x1="371.30" y1="68.46" x2="365.80" y2="68.46" stroke="#000" stroke-width="1.0"/><line x1="45.50" y1="64.81" x2="51.00" y2="64.81" stroke="#000" stroke-width="1.0"/><line x1="371.30" y1="64.81" x2="365.80" y2="64.81" stroke="#000" stroke-width="1.0"/><line x1="45.50" y1="61.55" x2="57.00" y2="61.55" stroke="#000" stroke-width="1.0"/><line x1="371.30" y1="61.55" x2="359.80" y2="61.55" stroke="#000" stroke-width="1.0"/><line x1="45.50" y1="40.07" x2="51.00" y2="40.07" stroke="#000" stroke-width="1.0"/><line x1="371.30" y1="40.07" x2="365.80" y2="40.07" stroke="#000" stroke-width="1.0"/><line x1="45.50" y1="27.51" x2="51.00" y2="27.51" stroke="#000" stroke-width="1.0"/><line x1="371.30" y1="27.51" x2="365.80" y2="27.51" stroke="#000" stroke-width="1.0"/><line x1="45.50" y1="18.59" x2="51.00" y2="18.59" stroke="#000" stroke-width="1.0"/><line x1="371.30" y1="18.59" x2="365.80" y2="18.59" stroke="#000" stroke-width="1.0"/><line x1="45.50" y1="477.74" x2="50.70" y2="477.74" stroke="#000" stroke-width="1.0"/><line x1="371.30" y1="477.74" x2="366.10" y2="477.74" stroke="#000" stroke-width="1.0"/><line x1="45.50" y1="458.26" x2="52.90" y2="458.26" stroke="#000" stroke-width="1.0"/><line x1="371.30" y1="458.26" x2="363.90" y2="458.26" stroke="#000" stroke-width="1.0"/><line x1="45.50" y1="442.34" x2="50.70" y2="442.34" stroke="#000" stroke-width="1.0"/><line x1="371.30" y1="442.34" x2="366.10" y2="442.34" stroke="#000" stroke-width="1.0"/><line x1="45.50" y1="428.89" x2="50.70" y2="428.89" stroke="#000" stroke-width="1.0"/><line x1="371.30" y1="428.89" x2="366.10" y2="428.89" stroke="#000" stroke-width="1.0"/><line x1="45.50" y1="417.23" x2="50.70" y2="417.23" stroke="#000" stroke-width="1.0"/><line x1="371.30" y1="417.23" x2="366.10" y2="417.23" stroke="#000" stroke-width="1.0"/><line x1="45.50" y1="406.95" x2="50.70" y2="406.95" stroke="#000" stroke-width="1.0"/><line x1="371.30" y1="406.95" x2="366.10" y2="406.95" stroke="#000" stroke-width="1.0"/><line x1="45.50" y1="397.75" x2="52.90" y2="397.75" stroke="#000" stroke-width="1.0"/><line x1="371.30" y1="397.75" x2="363.90" y2="397.75" stroke="#000" stroke-width="1.0"/><line x1="45.50" y1="389.43" x2="50.70" y2="389.43" stroke="#000" stroke-width="1.0"/><line x1="371.30" y1="389.43" x2="366.10" y2="389.43" stroke="#000" stroke-width="1.0"/><line x1="45.50" y1="381.83" x2="50.70" y2="381.83" stroke="#000" stroke-width="1.0"/><line x1="371.30" y1="381.83" x2="366.10" y2="381.83" stroke="#000" stroke-width="1.0"/><line x1="45.50" y1="374.85" x2="50.70" y2="374.85" stroke="#000" stroke-width="1.0"/><line x1="371.30" y1="374.85" x2="366.10" y2="374.85" stroke="#000" stroke-width="1.0"/><line x1="45.50" y1="368.38" x2="50.70" y2="368.38" stroke="#000" stroke-width="1.0"/><line x1="371.30" y1="368.38" x2="366.10" y2="368.38" stroke="#000" stroke-width="1.0"/><line x1="45.50" y1="362.36" x2="50.70" y2="362.36" stroke="#000" stroke-width="1.0"/><line x1="371.30" y1="362.36" x2="366.10" y2="362.36" stroke="#000" stroke-width="1.0"/><line x1="45.50" y1="356.72" x2="50.70" y2="356.72" stroke="#000" stroke-width="1.0"/><line x1="371.30" y1="356.72" x2="366.10" y2="356.72" stroke="#000" stroke-width="1.0"/><line x1="45.50" y1="351.43" x2="50.70" y2="351.43" stroke="#000" stroke-width="1.0"/><line x1="371.30" y1="351.43" x2="366.10" y2="351.43" stroke="#000" stroke-width="1.0"/><line x1="45.50" y1="346.44" x2="50.70" y2="346.44" stroke="#000" stroke-width="1.0"/><line x1="371.30" y1="346.44" x2="366.10" y2="346.44" stroke="#000" stroke-width="1.0"/><line x1="45.50" y1="341.72" x2="50.70" y2="341.72" stroke="#000" stroke-width="1.0"/><line x1="371.30" y1="341.72" x2="366.10" y2="341.72" stroke="#000" stroke-width="1.0"/><line x1="45.50" y1="337.24" x2="52.90" y2="337.24" stroke="#000" stroke-width="1.0"/><line x1="371.30" y1="337.24" x2="363.90" y2="337.24" stroke="#000" stroke-width="1.0"/><line x1="45.50" y1="332.98" x2="50.70" y2="332.98" stroke="#000" stroke-width="1.0"/><line x1="371.30" y1="332.98" x2="366.10" y2="332.98" stroke="#000" stroke-width="1.0"/><line x1="45.50" y1="328.92" x2="50.70" y2="328.92" stroke="#000" stroke-width="1.0"/><line x1="371.30" y1="328.92" x2="366.10" y2="328.92" stroke="#000" stroke-width="1.0"/><line x1="45.50" y1="325.04" x2="50.70" y2="325.04" stroke="#000" stroke-width="1.0"/><line x1="371.30" y1="325.04" x2="366.10" y2="325.04" stroke="#000" stroke-width="1.0"/><line x1="45.50" y1="321.33" x2="50.70" y2="321.33" stroke="#000" stroke-width="1.0"/><line x1="371.30" y1="321.33" x2="366.10" y2="321.33" stroke="#000" stroke-width="1.0"/><line x1="45.50" y1="317.76" x2="50.70" y2="317.76" stroke="#000" stroke-width="1.0"/><line x1="371.30" y1="317.76" x2="366.10" y2="317.76" stroke="#000" stroke-width="1.0"/></g>
<rect x="45.5" y="17.6" width="325.8" height="299.95" fill="none" stroke="#000" stroke-width="1.5"/>
<rect x="45.5" y="317.55" width="325.8" height="160.25" fill="none" stroke="#000" stroke-width="1.5"/>
<line x1="64" y1="62.00" x2="89" y2="62.00" stroke="#a8173f" stroke-width="1.0"/>
<path d="M76.50,59.20 L79.40,64.80 L73.60,64.80 Z" fill="none" stroke="#a8173f" stroke-width="1.0"/>
<text x="94.3" y="64.60" font-size="9.5">Pythia 6.427 370</text>
<line x1="64" y1="75.08" x2="89" y2="75.08" stroke="#ff2255" stroke-width="1.0" stroke-dasharray="2.6,1.5"/>
<circle cx="76.50" cy="75.08" r="2.15" fill="none" stroke="#ff2255" stroke-width="0.9"/>
<text x="94.3" y="77.68" font-size="9.5">Pythia 6.427 atlas-csc</text>
<line x1="64" y1="88.16" x2="89" y2="88.16" stroke="#22cc88" stroke-width="1.0" stroke-dasharray="2.6,1.5"/>
<path d="M76.50,85.76 L79.30,88.16 L76.50,90.56 L73.70,88.16 Z" fill="#22cc88"/>
<text x="94.3" y="90.76" font-size="9.5">Pythia 6.427 d6t</text>
<line x1="64" y1="101.24" x2="89" y2="101.24" stroke="#ff7022" stroke-width="1.0" stroke-dasharray="3,1.5,1,1.5"/>
<rect x="74.20" y="98.94" width="4.60" height="4.60" fill="#ff7022"/>
<text x="94.3" y="103.84" font-size="9.5">Pythia 6.427 default</text>
<line x1="64" y1="114.32" x2="89" y2="114.32" stroke="#11bb11" stroke-width="1.0" stroke-dasharray="2.6,1.5"/>
<path d="M73.90,112.52 L79.10,112.52 L76.50,117.02 Z" fill="#11bb11"/>
<text x="94.3" y="116.92" font-size="9.5">Pythia 6.427 dw</text>
<line x1="64" y1="127.40" x2="89" y2="127.40" stroke="#444444" stroke-width="1.0"/>
<circle cx="76.50" cy="127.40" r="2.15" fill="none" stroke="#444444" stroke-width="0.9"/>
<text x="94.3" y="130.00" font-size="9.5">Pythia 6.427 p0</text>
<text x="50.5" y="13.9" font-size="12.2">7000 GeV pp</text>
<text x="272.2" y="13.9" font-size="12.1" textLength="95.8" lengthAdjust="spacing">Top (parton level)</text>
<text x="169.4" y="42.8" font-size="10.1">Δϕ (ttbar) (dy &lt; 0)</text>
<text x="174" y="302.3" font-size="8" fill="#999">(MC_FBA_TTBAR)</text>
<path d="M26.50,66.85V59.05" stroke="#000" stroke-width="1.10" fill="none"/><path d="M27.05,59.05 L25.95,59.05 L24.41,60.37 L24.41,61.25 L25.95,60.37 Z" fill="#000"/><text x="32.1" y="66.85" font-size="11" text-anchor="middle">0</text><text x="35.0" y="61.75" font-size="8.2">3</text>
<path d="M26.50,138.20V130.40" stroke="#000" stroke-width="1.10" fill="none"/><path d="M27.05,130.40 L25.95,130.40 L24.41,131.72 L24.41,132.60 L25.95,131.72 Z" fill="#000"/><text x="32.1" y="138.20" font-size="11" text-anchor="middle">0</text><text x="35.0" y="133.10" font-size="8.2">2</text>
<path d="M30.50,208.75V200.95" stroke="#000" stroke-width="1.10" fill="none"/><path d="M31.05,200.95 L29.95,200.95 L28.41,202.27 L28.41,203.15 L29.95,202.27 Z" fill="#000"/><text x="36.9" y="208.75" font-size="11" text-anchor="middle">0</text>
<path d="M38.50,279.90V272.10" stroke="#000" stroke-width="1.10" fill="none"/><path d="M39.05,272.10 L37.95,272.10 L36.41,273.42 L36.41,274.30 L37.95,273.42 Z" fill="#000"/>
<text x="38.5" y="341.24" font-size="11" text-anchor="end">2</text>
<text x="374.3" y="341.24" font-size="11">2</text>
<path d="M36.50,401.75V393.95" stroke="#000" stroke-width="1.10" fill="none"/><path d="M37.05,393.95 L35.95,393.95 L34.41,395.27 L34.41,396.15 L35.95,395.27 Z" fill="#000"/>
<path d="M377.70,402.55V394.75" stroke="#000" stroke-width="1.10" fill="none"/><path d="M378.25,394.75 L377.15,394.75 L375.61,396.07 L375.61,396.95 L377.15,396.07 Z" fill="#000"/>
<text x="38.5" y="462.26" font-size="11" text-anchor="end">0.5</text>
<text x="374.3" y="462.26" font-size="11">0.5</text>
<text x="51.40" y="488.8" font-size="11" text-anchor="middle">0</text>
<path d="M153.50,488.80V481.00" stroke="#000" stroke-width="1.10" fill="none"/><path d="M154.05,481.00 L152.95,481.00 L151.41,482.32 L151.41,483.20 L152.95,482.32 Z" fill="#000"/>
<text x="250.74" y="488.8" font-size="11" text-anchor="middle">2</text>
<text x="350.41" y="488.8" font-size="11" text-anchor="middle">3</text>
<text transform="translate(380.3,127.5) rotate(-90)" font-size="9.45" fill="#6a6a6a">Rivet 4.1.0, ≥ 100k events</text>
<text transform="translate(380.3,313) rotate(-90)" font-size="9.45" fill="#6a6a6a">mcplots.cern.ch [arXiv:2401.10621]</text>
<text transform="translate(17.2,446) rotate(-90)" font-size="9">Ratio to Pythia 6.427 370</text>
</svg></body></html>
